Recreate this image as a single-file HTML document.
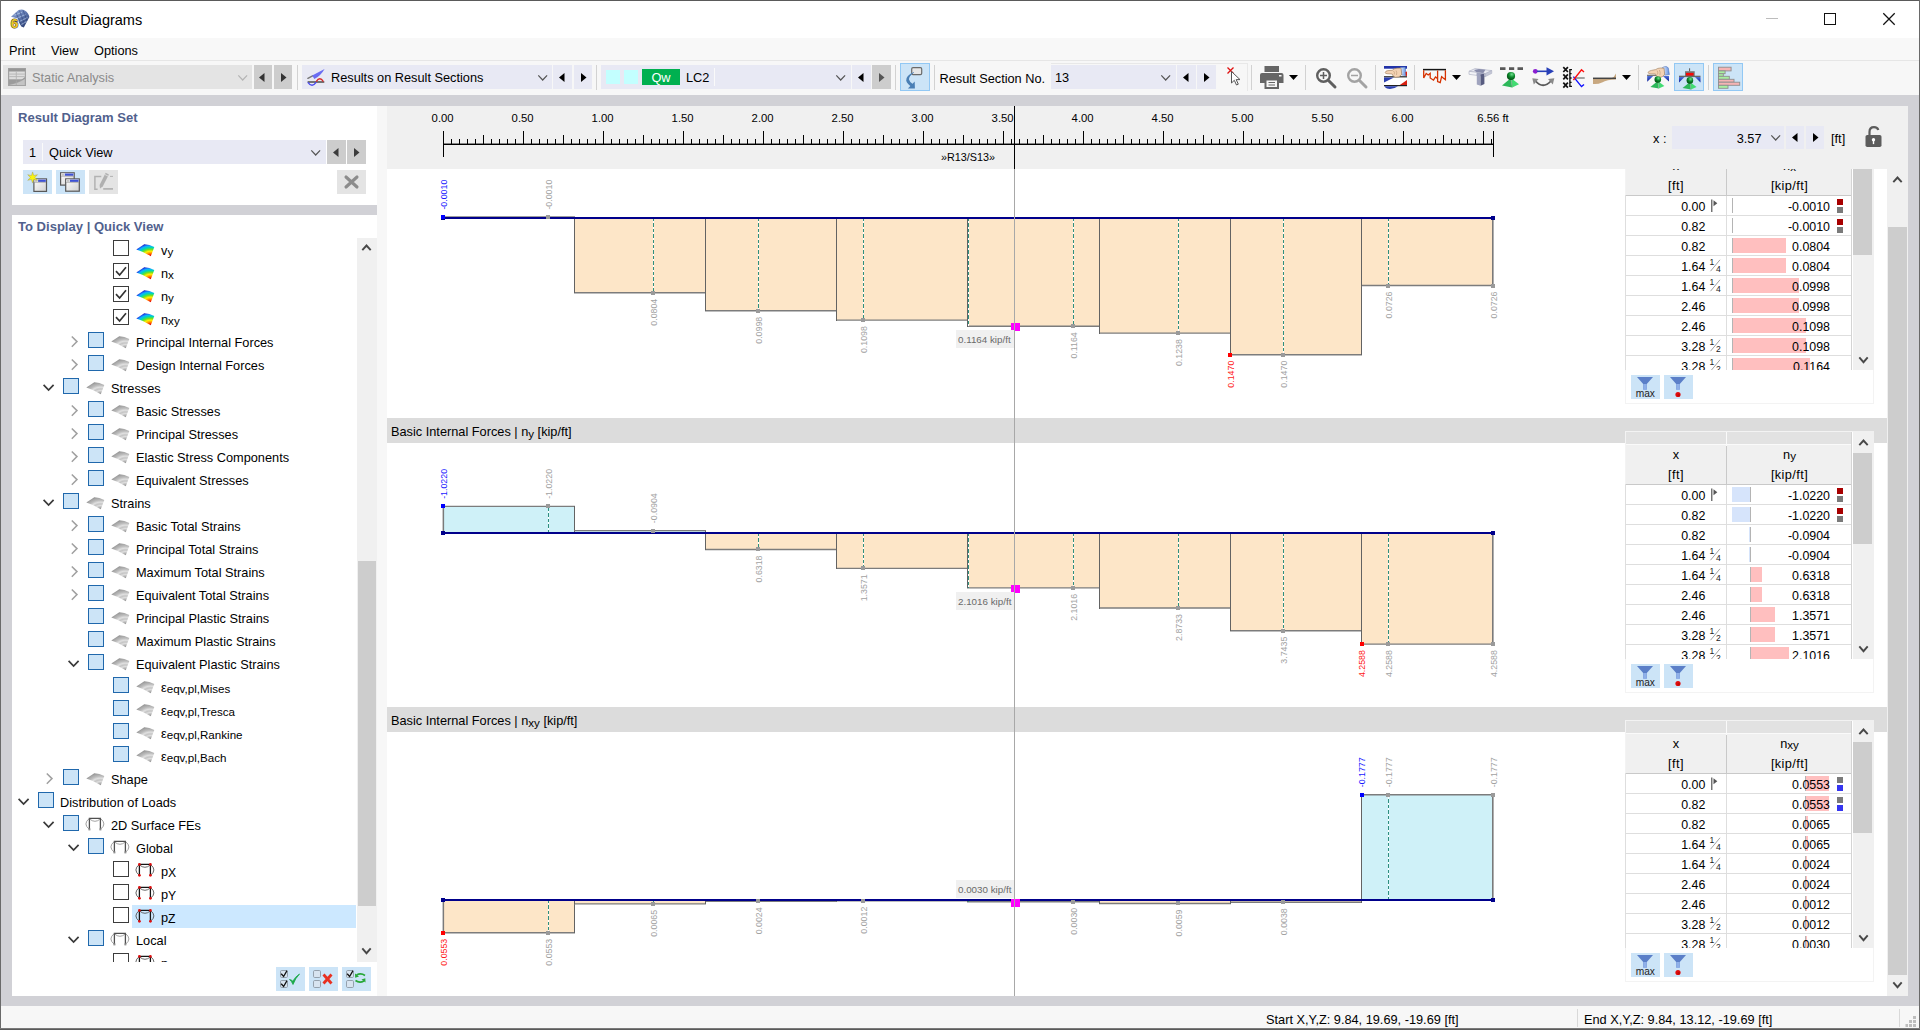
<!DOCTYPE html>
<html><head><meta charset="utf-8"><title>Result Diagrams</title>
<style>

html,body{margin:0;padding:0;background:#d1d1d6;overflow:hidden}
body{font-family:"Liberation Sans",sans-serif;font-size:12.75px;color:#000;width:1920px;height:1030px}
#win{position:relative;width:1920px;height:1030px;overflow:hidden;background:#d1d1d6}
.a{position:absolute;box-sizing:border-box}
.t{position:absolute;white-space:nowrap;line-height:16px;height:16px}
.lav{background:#e8e9f4}
.gbtn{background:#cdcdcd}
.sep{position:absolute;width:1px;background:#d2d2d2;top:65px;height:25px}
.act{background:#cce4f7;border:1px solid #92c8f4}
.hd{font-weight:bold;font-size:13.05px;color:#51618d}
svg{position:absolute;overflow:visible}
.sub{font-size:11.6px;position:relative;top:1.2px}
.cb{position:absolute;width:16px;height:16px;box-sizing:border-box}
.cbw{border:1.6px solid #3c3c3c;background:#fff}
.cbb{border:1.8px solid #2068ac;background:#cce4f7}
.row{position:absolute;left:0;height:23px;width:345px}

</style></head>
<body>
<div id="win">
<div class="a " style="left:0px;top:0px;width:1920px;height:38px;background:#fff"></div>
<div class="a " style="left:0px;top:38px;width:1920px;height:23px;background:#f8f8f8"></div>
<div class="a " style="left:0px;top:60px;width:1920px;height:1px;background:#e6e6e6"></div>
<div class="a " style="left:0px;top:61px;width:1920px;height:34px;background:#f7f7f7"></div>
<div class="a " style="left:377px;top:106px;width:10px;height:890px;background:#f7f7f7"></div>
<div class="a " style="left:0px;top:0px;width:1920px;height:1px;background:#5a5a5a"></div>
<div class="a " style="left:0px;top:0px;width:1px;height:1030px;background:#6a6a6a"></div>
<div class="a " style="left:1919px;top:0px;width:1px;height:1030px;background:#6a6a6a"></div>
<svg style="left:10px;top:9px" width="21" height="21" >
<defs><linearGradient id="tg" x1="0.1" y1="0" x2="0.9" y2="1"><stop offset="0" stop-color="#93aada"/><stop offset="0.45" stop-color="#5f78b0"/><stop offset="1" stop-color="#26376a"/></linearGradient></defs>
<path d="M1 7.8 L8.6 1.1 Q12 -0.2 14.8 1.5 Q18.8 4 19.4 8.1 L13.8 18.4 L11.3 17.4 L9 13.5 L8 9.5 Z" fill="url(#tg)"/>
<g stroke="#c8dcf8" stroke-width="1.1" opacity="0.55"><path d="M4.5 6.2 L12 3.2 M7.5 9 L15.5 5.5 M9.5 12.5 L17.5 8.5 M11 15.8 L16.5 12.5"/></g>
<g stroke="#263a70" stroke-width="0.9" opacity="0.5"><path d="M6 3.8 L11.5 16.5 M9.5 1.6 L14.5 15.5 M13 1.2 L17 11.5"/></g>
<text x="4.6" y="19.3" font-family="Liberation Sans" font-weight="bold" font-size="13.5" fill="#ecc928" stroke="#4e4828" stroke-width="1.1" text-anchor="middle" paint-order="stroke">6</text>
</svg>
<div class="t " style="left:35px;top:11px;font-size:14.5px;line-height:18px;height:18px">Result Diagrams</div>
<div class="a " style="left:1766px;top:18px;width:12px;height:1px;background:#bcbcbc"></div>
<div class="a " style="left:1824px;top:13px;width:12px;height:12px;border:1.3px solid #111"></div>
<svg style="left:1883px;top:13px" width="12" height="12" ><path d="M0.3 0.3 L11.7 11.7 M11.7 0.3 L0.3 11.7" stroke="#111" stroke-width="1.25"/></svg>
<div class="t " style="left:9px;top:43px;">Print</div>
<div class="t " style="left:51px;top:43px;">View</div>
<div class="t " style="left:94px;top:43px;">Options</div>
<div class="a " style="left:3px;top:65px;width:249px;height:24px;background:#e4e4e4"></div>
<svg style="left:8px;top:68px" width="18" height="18" ><rect x="0" y="0" width="18" height="18" fill="#a2a2a2"/><rect x="0.8" y="0.8" width="16.4" height="2.2" fill="#969696"/>
<rect x="1.2" y="3.6" width="15.6" height="7.6" fill="#dedede"/><path d="M1.2 6.1H16.8M1.2 8.6H16.8M8.3 3.6V11.2" stroke="#b4b4b4" stroke-width="0.9"/>
<path d="M1 12 H17 V9 Q11 14.5 1 16.5 Z" fill="#9c9c9c"/><path d="M1.2 17 Q10 15.5 16.8 11 V17 Z" fill="#c4c4c4"/><path d="M8.3 12.5V17" stroke="#aaa" stroke-width="0.8"/></svg>
<div class="t " style="left:32px;top:70px;color:#8a8a8a">Static Analysis</div>
<svg style="left:237.8px;top:75.0px" width="9.4" height="6" ><path d="M0.3 0.3 L4.7 5 L9.1 0.3" fill="none" stroke="#b5b5b5" stroke-width="1.2"/></svg>
<div class="a gbtn" style="left:254px;top:65px;width:18px;height:24px;"></div>
<svg style="left:259px;top:72.5px" width="6" height="9" ><path d="M5.5 0 L5.5 9 L0 4.5 Z" fill="#333"/></svg>
<div class="a gbtn" style="left:274px;top:65px;width:18px;height:24px;"></div>
<svg style="left:280.5px;top:72.5px" width="6" height="9" ><path d="M0 0 L0 9 L5.5 4.5 Z" fill="#333"/></svg>
<div class="sep" style="left:297px"></div><div class="a lav" style="left:302px;top:65px;width:250px;height:24px;"></div>
<svg style="left:307px;top:68px" width="19" height="19" ><path d="M0.9 10.3 L5.6 7.9" stroke="#777" stroke-width="1.5" stroke-linecap="round"/><path d="M5.2 7.4 L17.6 0.9 Q13.5 8 7.4 10.9 Z" fill="#6a6cf2"/>
<path d="M0.6 14 H17.3" stroke="#5e5e5e" stroke-width="1.7"/><path d="M9.2 13.6 Q12.8 8 16.4 13.6" stroke="#d82828" stroke-width="1.4" fill="none"/><path d="M0.9 14.4 Q5 20.3 9.3 14.2" stroke="#4a4af0" stroke-width="1.4" fill="none"/></svg>
<div class="t " style="left:331px;top:70px;">Results on Result Sections</div>
<svg style="left:537.8px;top:75.0px" width="9.4" height="6" ><path d="M0.3 0.3 L4.7 5 L9.1 0.3" fill="none" stroke="#555" stroke-width="1.2"/></svg>
<div class="a lav" style="left:553px;top:65px;width:19px;height:24px;"></div>
<svg style="left:558.5px;top:72.5px" width="6" height="9" ><path d="M5.5 0 L5.5 9 L0 4.5 Z" fill="#000"/></svg>
<div class="a lav" style="left:574px;top:65px;width:18px;height:24px;"></div>
<svg style="left:580.5px;top:72.5px" width="6" height="9" ><path d="M0 0 L0 9 L5.5 4.5 Z" fill="#000"/></svg>
<div class="sep" style="left:596px"></div><div class="a lav" style="left:601px;top:65px;width:250px;height:24px;"></div>
<div class="a " style="left:606px;top:70px;width:14px;height:14px;background:#c3ffff"></div>
<div class="a " style="left:624px;top:70px;width:14px;height:14px;background:#c3ffff"></div>
<div class="a " style="left:642px;top:69px;width:38px;height:16px;background:#00b050"></div>
<div class="t " style="left:642px;top:69.8px;width:38px;text-align:center;color:#fff">Qw</div>
<div class="t " style="left:686px;top:70px;">LC2</div>
<div class="a " style="left:714px;top:68px;width:1px;height:18px;background:#fafafa"></div>
<svg style="left:836.3px;top:75.0px" width="9.4" height="6" ><path d="M0.3 0.3 L4.7 5 L9.1 0.3" fill="none" stroke="#555" stroke-width="1.2"/></svg>
<div class="a lav" style="left:852px;top:65px;width:19px;height:24px;"></div>
<svg style="left:857.5px;top:72.5px" width="6" height="9" ><path d="M5.5 0 L5.5 9 L0 4.5 Z" fill="#000"/></svg>
<div class="a gbtn" style="left:872px;top:65px;width:19px;height:24px;"></div>
<svg style="left:879.0px;top:72.5px" width="6" height="9" ><path d="M0 0 L0 9 L5.5 4.5 Z" fill="#555"/></svg>
<div class="sep" style="left:895px"></div><div class="a act" style="left:900px;top:63px;width:30px;height:28px;"></div>
<svg style="left:905px;top:66px" width="20" height="24" ><rect x="6.7" y="1.6" width="10" height="7" rx="1.3" fill="#e6e6e6" stroke="#6a6a6a" stroke-width="1.2"/>
<path d="M8.8 6 Q0.3 10 1.2 14.8 Q2.3 18.3 6.8 21 L8.3 18.6 Q4.6 16.3 4 13.6 Q3.6 10.6 9 6.6 Z" fill="#4a7fb5"/><path d="M9.7 15.6 L9.9 22.6 L2.9 22.4 Z" fill="#4a7fb5"/></svg>
<div class="sep" style="left:934px"></div><div class="t " style="left:939.5px;top:70.5px;">Result Section No.</div>
<div class="a " style="left:1051px;top:63px;width:196px;height:1px;background:#e8e8e8"></div>
<div class="a " style="left:1247px;top:63px;width:1px;height:28px;background:#e8e8e8"></div>
<div class="a lav" style="left:1051px;top:65px;width:125px;height:24px;"></div>
<div class="t " style="left:1055px;top:70px;">13</div>
<svg style="left:1161.3px;top:75.0px" width="9.4" height="6" ><path d="M0.3 0.3 L4.7 5 L9.1 0.3" fill="none" stroke="#555" stroke-width="1.2"/></svg>
<div class="a lav" style="left:1177px;top:65px;width:19px;height:24px;"></div>
<svg style="left:1182.5px;top:72.5px" width="6" height="9" ><path d="M5.5 0 L5.5 9 L0 4.5 Z" fill="#000"/></svg>
<div class="a lav" style="left:1197px;top:65px;width:19px;height:24px;"></div>
<svg style="left:1204.0px;top:72.5px" width="6" height="9" ><path d="M0 0 L0 9 L5.5 4.5 Z" fill="#000"/></svg>
<svg style="left:1226px;top:66px" width="16" height="20" ><path d="M1.5 1.5 L7.5 7.5 M7.5 1.5 L1.5 7.5" stroke="#e01010" stroke-width="1.3"/>
<path d="M5.5 5.5 L5.5 17 L8.3 14.3 L10.5 19 L12.3 18.2 L10.2 13.6 L14 13.6 Z" fill="#fff" stroke="#555" stroke-width="1"/></svg>
<div class="sep" style="left:1251px"></div><svg style="left:1260px;top:66px" width="24" height="23" ><rect x="4.5" y="0" width="14.5" height="6" fill="#666"/><path d="M2 7 H21.5 Q23.5 7 23.5 9 V17 H0 V9 Q0 7 2 7 Z" fill="#666"/>
<rect x="4.5" y="12.5" width="14.5" height="10.5" fill="#666"/><rect x="6.5" y="14.5" width="10.5" height="6.5" fill="#f7f7f7"/><path d="M8.5 16.5H15M8.5 19H15" stroke="#666" stroke-width="1"/><rect x="19" y="9" width="2.5" height="1.5" fill="#f7f7f7"/></svg>
<svg style="left:1289.0px;top:75.0px" width="9" height="5" ><path d="M0 0 L9 0 L4.5 5 Z" fill="#000"/></svg>
<div class="sep" style="left:1305px"></div><svg style="left:1314px;top:66px" width="24" height="23" ><circle cx="9.5" cy="9.5" r="6.3" fill="none" stroke="#5f5f5f" stroke-width="2.4"/><path d="M14.5 14.5 L21 21" stroke="#5f5f5f" stroke-width="3" stroke-linecap="round"/><path d="M6 9.5H13M9.5 6V13" stroke="#5f5f5f" stroke-width="1.5"/></svg>
<svg style="left:1345px;top:66px" width="24" height="23" ><circle cx="9.5" cy="9.5" r="6.3" fill="none" stroke="#a3a3a3" stroke-width="2.4"/><path d="M14.5 14.5 L21 21" stroke="#a3a3a3" stroke-width="3" stroke-linecap="round"/><path d="M6 9.5H13" stroke="#a3a3a3" stroke-width="1.5"/></svg>
<div class="sep" style="left:1375px"></div><svg style="left:1384px;top:66px" width="23" height="23" ><defs><linearGradient id="cf" x1="0" y1="0" x2="1" y2="0"><stop offset="0" stop-color="#e8f0ff"/><stop offset="1" stop-color="#5f8fe0"/></linearGradient></defs>
<rect x="0" y="0" width="23" height="20" fill="#fff"/><rect x="0" y="0" width="23" height="2.7" fill="#2233a8"/>
<rect x="0" y="10.2" width="23" height="1.2" fill="#222"/><path d="M0 11.4 H10 L0 16.6Z" fill="#2a3fb0"/><path d="M15.8 19 L23 14 V19Z" fill="#d82010"/><rect x="0" y="19" width="23" height="1.2" fill="#222"/>
<path d="M0.4 20.2 H14 Q8 24.2 3 22.6 Q1 21.6 0.4 20.2Z" fill="#2a3fb0"/>
<path d="M16.3 1.4 L21.3 1 L22 9.6 L17.6 9 Z" fill="url(#cf)" stroke="#3a60b0" stroke-width="0.5"/><path d="M21.5 6 L23 5.5 V10 L21.8 9.8Z" fill="#d82010"/>
<path d="M1.2 6.4 Q1.4 4.9 4 4.6 L8.2 4.3 Q9.8 2.4 13 2.2 L17 2.1 L17.8 8.4 Q15.5 11.8 11.3 11.3 Q8.6 10.6 8.2 8 L3 7.7 Q1 7.5 1.2 6.4Z" fill="#f3d2b3" stroke="#9a7858" stroke-width="0.6"/><path d="M9.5 5 Q11 6.5 10.2 8.5 M12 4.5 Q13.3 6.5 12.5 9" fill="none" stroke="#b08a68" stroke-width="0.5"/></svg>
<div class="sep" style="left:1414px"></div><svg style="left:1422px;top:68px" width="25" height="17" ><path d="M1 1.6 H24" stroke="#151515" stroke-width="1.5"/><path d="M1.7 2.2 V10 L4.2 5.4 L6.2 7 L8.2 5.3 V10 L11.5 12.2 L13.5 9 L15.6 10.6 V2.5 M15.6 10.6 V13.6 L18.2 14.6 L19.6 8.6 L21.2 10 L23.4 11.6 V2.2" fill="none" stroke="#d63200" stroke-width="1.3"/></svg>
<svg style="left:1452.0px;top:75.0px" width="9" height="5" ><path d="M0 0 L9 0 L4.5 5 Z" fill="#000"/></svg>
<svg style="left:1468px;top:67px" width="25" height="20" ><path d="M1 4.3 L7 1.6 L23.8 3.6 L17.5 6.6 Z" fill="#e9eaf1" stroke="#a3a6bc" stroke-width="0.6"/><path d="M6 3.1 L11 1.9 L17.4 2.7 L15.2 6.3 L8.6 5.4 Z" fill="#888cab"/>
<path d="M1 4.3 L17.5 6.6 L17.5 9.6 L1 7.3 Z" fill="#f2f3f7" stroke="#a9acc0" stroke-width="0.6"/><path d="M17.5 6.6 L23.8 3.6 L23.8 6.4 L17.5 9.6 Z" fill="#c4c7d6" stroke="#a9acc0" stroke-width="0.5"/>
<path d="M8.6 5.4 L15.2 6.3 L15.2 9.3 L8.6 8.4 Z" fill="#a0a4be"/>
<path d="M8.8 6.8 L12.6 7.6 L12.6 18.8 L8.8 17.6 Z" fill="#a0a4be"/><path d="M12.6 7.6 L16.4 6.6 L16.4 17 L12.6 18.8 Z" fill="#585c80"/></svg>
<svg style="left:1500px;top:66px" width="24" height="23" ><defs><radialGradient id="sg" cx="0.6" cy="0.3" r="0.7"><stop offset="0" stop-color="#6fe08f"/><stop offset="0.5" stop-color="#0c8a2c"/><stop offset="1" stop-color="#024d12"/></radialGradient></defs>
<path d="M0 2.6 H5.5 M9 2.6 H14.2 M17.5 2.6 H23" stroke="#585858" stroke-width="2.6"/><path d="M11 12 L1.99 19.51 L12.19 21.50 Z" fill="#2db85a"/><path d="M11 12 L12.19 21.50 L18.99 18.27 Z" fill="#42dc72"/><path d="M11 12 L12.19 21.50" stroke="#8a9a90" stroke-width="0.5"/><circle cx="11" cy="10" r="4.1" fill="url(#sg)"/></svg>
<svg style="left:1532px;top:66px" width="23" height="23" ><circle cx="3.3" cy="5.3" r="2.4" fill="#8a1fd0"/><path d="M5 5.3 H16" stroke="#2840b8" stroke-width="1.6"/><path d="M14.5 1.2 L22 5.3 L14.5 9.4 Z" fill="#2840b8"/>
<path d="M3.5 15 Q11 23.5 19 15" fill="none" stroke="#5a5a5a" stroke-width="1.8"/><path d="M0.3 12.2 L6.5 13 L1.8 18.5 Z" fill="#8a8a8a"/><path d="M22.3 12.2 L16 13 L20.8 18.5 Z" fill="#8a8a8a"/></svg>
<svg style="left:1563px;top:66px" width="23" height="23" ><path d="M6.9 3 V21" stroke="#111" stroke-width="1.4"/><path d="M6.9 3.6 H9 M6.9 7.6 H8.6 M6.9 12 H8.6 M6.9 16.4 H8.6 M6.9 20.4 H9" stroke="#111" stroke-width="1.3"/>
<path d="M0.3 1.2 L4.9 6 M4.9 1.2 L0.3 6 M0.3 8.4 L4.9 13.3 M4.9 8.4 L0.3 13.3 M0.3 16.6 L4.9 21.6 M4.9 16.6 L0.3 21.6" stroke="#111" stroke-width="1.7"/>
<path d="M12.5 12 H21.7" stroke="#6a6a6a" stroke-width="1.2"/><path d="M10.4 10.6 L18.5 20.6 L21 18.5" fill="none" stroke="#1010ff" stroke-width="1.4"/><path d="M10.4 14 L18.5 3.7 L21 6" fill="none" stroke="#ff1010" stroke-width="1.4"/></svg>
<svg style="left:1593px;top:73px" width="24" height="12" ><path d="M0 5.5 L18 5.5 Q21.5 4 23 0.5 L23 5.5 L23 6 L0 6Z" fill="#c8a880"/><path d="M0 5.5 H23 V6.5 Q14 6.5 9 9.5 Q5 11.5 0 11 Z" fill="#c8a880"/><path d="M0 5.3 H23" stroke="#444" stroke-width="1.5"/></svg>
<svg style="left:1622.0px;top:75.0px" width="9" height="5" ><path d="M0 0 L9 0 L4.5 5 Z" fill="#000"/></svg>
<div class="sep" style="left:1638px"></div><svg style="left:1647px;top:65px" width="24" height="25" ><defs><linearGradient id="bt" x1="0" y1="0" x2="0" y2="1"><stop offset="0" stop-color="#4f6fd8"/><stop offset="1" stop-color="#0a1d98"/></linearGradient></defs>
<path d="M0 10.4 H12" stroke="#777" stroke-width="1.3"/><path d="M0.2 11 H6.2 L0.2 16.8Z" fill="url(#bt)"/><path d="M15.8 11 H22 V16.4Z" fill="url(#bt)"/>
<path d="M15.3 2.6 Q19.5 0.3 21.3 3 L22.4 9.6 L17.6 10.2 Z" fill="url(#cf)" stroke="#3a60b0" stroke-width="0.5"/>
<path d="M1.2 7.3 Q1.8 5.7 4.5 5.4 L8.6 4.6 Q10.6 3 13.5 3 L17 3.2 L17.7 9.3 Q15.6 12.9 11.6 12.4 Q9 11.7 8.6 9 L3 8.8 Q0.8 8.4 1.2 7.3Z" fill="#f3d2b3" stroke="#9a7858" stroke-width="0.6"/><path d="M10 5.5 Q11.3 7.3 10.6 9.6 M12.4 5 Q13.6 7.2 12.9 10.2" fill="none" stroke="#b08a68" stroke-width="0.5"/><path d="M10.8 16 L3.38 22.00 L11.78 23.60 Z" fill="#2db85a"/><path d="M10.8 16 L11.78 23.60 L17.38 21.02 Z" fill="#42dc72"/><path d="M10.8 16 L11.78 23.60" stroke="#8a9a90" stroke-width="0.5"/><circle cx="10.8" cy="14.5" r="3.3" fill="url(#sg)"/></svg>
<div class="a act" style="left:1674px;top:63px;width:30px;height:28px;"></div>
<svg style="left:1678px;top:67px" width="24" height="23" ><path d="M11.6 1.3 V4.5" stroke="#555" stroke-width="1"/><rect x="7" y="4.2" width="9.7" height="4.8" fill="#757575"/><rect x="8" y="5.9" width="7.6" height="2.9" fill="#f80808"/><path d="M1 9.4 H22.5" stroke="#666" stroke-width="1.4"/>
<path d="M1 10.1 H6.5 L1 15.4 Z" fill="url(#bt)"/><path d="M22.5 10.1 H17 L22.5 15.4 Z" fill="url(#bt)"/><path d="M12 15 L4.58 21.00 L12.98 22.60 Z" fill="#2db85a"/><path d="M12 15 L12.98 22.60 L18.58 20.02 Z" fill="#42dc72"/><path d="M12 15 L12.98 22.60" stroke="#8a9a90" stroke-width="0.5"/><circle cx="11.9" cy="13.4" r="3.3" fill="url(#sg)"/></svg>
<div class="sep" style="left:1708px"></div><div class="a act" style="left:1713px;top:63px;width:30px;height:28px;"></div>
<svg style="left:1718px;top:67px" width="23" height="23" ><rect x="0.5" y="0.2" width="12.6" height="3.7" fill="#f6b4b4" stroke="#8e8e8e" stroke-width="0.9"/><rect x="0.5" y="3.9" width="6.6" height="2.8" fill="#a8f0a0" stroke="#8e8e8e" stroke-width="0.9"/><rect x="0.5" y="6.7" width="4.8" height="2.6" fill="#a8f0a0" stroke="#8e8e8e" stroke-width="0.9"/><rect x="0.5" y="9.3" width="10.8" height="3.0" fill="#a8f0a0" stroke="#8e8e8e" stroke-width="0.9"/><rect x="0.5" y="12.3" width="15.5" height="2.9" fill="#f6b4b4" stroke="#8e8e8e" stroke-width="0.9"/><rect x="0.5" y="15.2" width="21.2" height="3.1" fill="#f6b4b4" stroke="#8e8e8e" stroke-width="0.9"/><rect x="0.5" y="18.3" width="9.5" height="3.0" fill="#a8f0a0" stroke="#8e8e8e" stroke-width="0.9"/></svg>
<div class="a " style="left:1px;top:1006px;width:1918px;height:23px;background:#f7f7f7"></div>
<div class="a " style="left:0px;top:1029px;width:1920px;height:1px;background:#5a5a5a"></div>
<div class="a " style="left:0px;top:1028px;width:1920px;height:1px;background:#7a7a7a"></div>
<div class="a " style="left:1577px;top:1009px;width:1px;height:18px;background:#d9d9d9"></div>
<div class="a " style="left:1899px;top:1009px;width:1px;height:18px;background:#d9d9d9"></div>
<div class="t " style="left:1266px;top:1012px;">Start X,Y,Z: 9.84, 19.69, -19.69 [ft]</div>
<div class="t " style="left:1584px;top:1012px;">End X,Y,Z: 9.84, 13.12, -19.69 [ft]</div>
<svg style="left:1904px;top:1015px" width="13" height="13" ><g fill="#bebebe"><rect x="9" y="1" width="3" height="3"/><rect x="5" y="5" width="3" height="3"/><rect x="9" y="5" width="3" height="3"/><rect x="1.5" y="9" width="2.5" height="3"/><rect x="5" y="9" width="3" height="3"/><rect x="9" y="9" width="3" height="3"/></g></svg>
<div class="a " style="left:12px;top:106px;width:365px;height:99px;background:#fff"></div>
<div class="t hd" style="left:18px;top:109.5px;">Result Diagram Set</div>
<div class="a lav" style="left:23px;top:140px;width:303px;height:24px;"></div>
<div class="t " style="left:29px;top:145px;">1</div>
<div class="a " style="left:42px;top:143px;width:1px;height:18px;background:#fafafa"></div>
<div class="t " style="left:49px;top:145px;">Quick View</div>
<svg style="left:311.3px;top:150.0px" width="9.4" height="6" ><path d="M0.3 0.3 L4.7 5 L9.1 0.3" fill="none" stroke="#555" stroke-width="1.2"/></svg>
<div class="a gbtn" style="left:327px;top:140px;width:19px;height:24px;"></div>
<svg style="left:332.5px;top:147.5px" width="6" height="9" ><path d="M5.5 0 L5.5 9 L0 4.5 Z" fill="#3c3c3c"/></svg>
<div class="a gbtn" style="left:347px;top:140px;width:19px;height:24px;"></div>
<svg style="left:354.0px;top:147.5px" width="6" height="9" ><path d="M0 0 L0 9 L5.5 4.5 Z" fill="#3c3c3c"/></svg>
<div class="a " style="left:23px;top:170px;width:29px;height:24px;background:#cce4f7"></div>
<svg style="left:26px;top:171px" width="24" height="22" ><defs><linearGradient id="wg" x1="0" y1="0" x2="1" y2="1"><stop offset="0" stop-color="#ffffff"/><stop offset="1" stop-color="#d0d0d0"/></linearGradient></defs><rect x="7.9" y="7.9" width="12.6" height="12.5" fill="url(#wg)" stroke="#585858" stroke-width="1.2"/><rect x="8.5" y="8.5" width="11.4" height="2.5" fill="#f4f4f4"/><rect x="12.100000000000001" y="8.6" width="7.699999999999999" height="2.3" fill="#3d52d6"/><rect x="8.8" y="8.8" width="2.6" height="1.9" fill="#c4c4c4"/><path d="M8.5 11.3 H19.9" stroke="#8a8a8a" stroke-width="0.6"/><path d="M6.60 0.90 L7.75 4.51 L11.45 3.70 L8.90 6.50 L11.45 9.30 L7.75 8.49 L6.60 12.10 L5.45 8.49 L1.75 9.30 L4.30 6.50 L1.75 3.70 L5.45 4.51 Z" fill="#f8f410" stroke="#a8a060" stroke-width="0.5"/></svg>
<div class="a " style="left:56px;top:170px;width:29px;height:24px;background:#cce4f7"></div>
<svg style="left:59px;top:171px" width="24" height="22" ><rect x="1.6" y="1.8" width="13.6" height="12.3" fill="url(#wg)" stroke="#585858" stroke-width="1.2"/><rect x="2.2" y="2.4" width="12.4" height="2.5" fill="#f4f4f4"/><rect x="5.800000000000001" y="2.5" width="8.7" height="2.3" fill="#3d52d6"/><rect x="2.5" y="2.7" width="2.6" height="1.9" fill="#c4c4c4"/><path d="M2.2 5.2 H14.6" stroke="#8a8a8a" stroke-width="0.6"/><rect x="6.7" y="7.9" width="13.6" height="12.3" fill="url(#wg)" stroke="#585858" stroke-width="1.2"/><rect x="7.3" y="8.5" width="12.4" height="2.5" fill="#f4f4f4"/><rect x="10.9" y="8.6" width="8.7" height="2.3" fill="#3d52d6"/><rect x="7.6000000000000005" y="8.8" width="2.6" height="1.9" fill="#c4c4c4"/><path d="M7.3 11.3 H19.7" stroke="#8a8a8a" stroke-width="0.6"/></svg>
<div class="a " style="left:89px;top:170px;width:29px;height:24px;background:#e4e4e4"></div>
<svg style="left:92px;top:171px" width="24" height="22" ><path d="M9.3 5.6 H2.9 V18.2 H5.6" fill="none" stroke="#b2b2b2" stroke-width="1.5"/><path d="M11.2 17.9 H21" stroke="#b2b2b2" stroke-width="1.7"/><path d="M18 5.4 H21" stroke="#b2b2b2" stroke-width="1"/>
<path d="M13.7 1.8 L16.9 3.4 L10.7 15.4 L8 17.6 L7.6 13.9 Z" fill="#b0b0b0"/><path d="M12.9 3.5 L16 5.1" stroke="#e4e4e4" stroke-width="0.8"/></svg>
<div class="a " style="left:337px;top:170px;width:29px;height:24px;background:#e4e4e4"></div>
<svg style="left:344px;top:175px" width="15" height="14" ><path d="M2 2 L13 12 M13 2 L2 12" stroke="#8c8c8c" stroke-width="3.1" stroke-linecap="round"/></svg>
<div class="a " style="left:12px;top:215px;width:365px;height:781px;background:#fff"></div>
<div class="t hd" style="left:18px;top:218.5px;">To Display | Quick View</div>
<div class="a" style="left:12px;top:238px;width:345px;height:724px;overflow:hidden"><svg width="0" height="0" style="left:0;top:0"><defs><radialGradient id="rb" gradientUnits="userSpaceOnUse" cx="14.5" cy="12.5" r="13.2" gradientTransform="translate(14.5 12.5) scale(1.35 1) translate(-14.5 -12.5)">
<stop offset="0" stop-color="#b00000"/><stop offset="0.12" stop-color="#ff2000"/><stop offset="0.26" stop-color="#ff9800"/><stop offset="0.4" stop-color="#fff000"/><stop offset="0.54" stop-color="#70e020"/><stop offset="0.68" stop-color="#00d8b0"/><stop offset="0.8" stop-color="#10b0ff"/><stop offset="0.9" stop-color="#1858f0"/><stop offset="1" stop-color="#1000a0"/></radialGradient>
<radialGradient id="gb" gradientUnits="userSpaceOnUse" cx="14.5" cy="12.5" r="13.2" gradientTransform="translate(14.5 12.5) scale(1.35 1) translate(-14.5 -12.5)">
<stop offset="0" stop-color="#8a8a8a"/><stop offset="0.18" stop-color="#b8b8b8"/><stop offset="0.3" stop-color="#dedede"/><stop offset="0.42" stop-color="#c4c4c4"/><stop offset="0.55" stop-color="#e0e0e0"/><stop offset="0.7" stop-color="#bdbdbd"/><stop offset="0.85" stop-color="#a8a8a8"/><stop offset="1" stop-color="#8c8c8c"/></radialGradient></defs></svg><div class="cb cbw" style="left:101px;top:2px"></div><svg style="left:124px;top:6px" width="19" height="13" ><path d="M0.3 5.6 L8.3 0.3 Q13.5 0.6 18.3 3 L14.8 12.3 Q8 8 0.3 5.6 Z" fill="url(#rb)"/></svg>
<div class="t " style="left:149px;top:5px;">v<span class="sub">y</span></div>
<div class="cb cbw" style="left:101px;top:25px"></div><svg style="left:101px;top:25px" width="16" height="16" ><path d="M3 8.2 L6.6 12 L13 4.2" fill="none" stroke="#333" stroke-width="1.7"/></svg>
<svg style="left:124px;top:29px" width="19" height="13" ><path d="M0.3 5.6 L8.3 0.3 Q13.5 0.6 18.3 3 L14.8 12.3 Q8 8 0.3 5.6 Z" fill="url(#rb)"/></svg>
<div class="t " style="left:149px;top:28px;">n<span class="sub">x</span></div>
<div class="cb cbw" style="left:101px;top:48px"></div><svg style="left:101px;top:48px" width="16" height="16" ><path d="M3 8.2 L6.6 12 L13 4.2" fill="none" stroke="#333" stroke-width="1.7"/></svg>
<svg style="left:124px;top:52px" width="19" height="13" ><path d="M0.3 5.6 L8.3 0.3 Q13.5 0.6 18.3 3 L14.8 12.3 Q8 8 0.3 5.6 Z" fill="url(#rb)"/></svg>
<div class="t " style="left:149px;top:51px;">n<span class="sub">y</span></div>
<div class="cb cbw" style="left:101px;top:71px"></div><svg style="left:101px;top:71px" width="16" height="16" ><path d="M3 8.2 L6.6 12 L13 4.2" fill="none" stroke="#333" stroke-width="1.7"/></svg>
<svg style="left:124px;top:75px" width="19" height="13" ><path d="M0.3 5.6 L8.3 0.3 Q13.5 0.6 18.3 3 L14.8 12.3 Q8 8 0.3 5.6 Z" fill="url(#rb)"/></svg>
<div class="t " style="left:149px;top:74px;">n<span class="sub">xy</span></div>
<svg style="left:59px;top:98px" width="8" height="12" ><path d="M0.8 0.5 L6 5.6 L0.8 10.7" fill="none" stroke="#a0a0a0" stroke-width="1.5"/></svg>
<div class="cb cbb" style="left:76px;top:94px"></div><svg style="left:99px;top:98px" width="19" height="13" ><path d="M0.3 5.6 L8.3 0.3 Q13.5 0.6 18.3 3 L14.8 12.3 Q8 8 0.3 5.6 Z" fill="url(#gb)"/></svg>
<div class="t " style="left:124px;top:97px;">Principal Internal Forces</div>
<svg style="left:59px;top:121px" width="8" height="12" ><path d="M0.8 0.5 L6 5.6 L0.8 10.7" fill="none" stroke="#a0a0a0" stroke-width="1.5"/></svg>
<div class="cb cbb" style="left:76px;top:117px"></div><svg style="left:99px;top:121px" width="19" height="13" ><path d="M0.3 5.6 L8.3 0.3 Q13.5 0.6 18.3 3 L14.8 12.3 Q8 8 0.3 5.6 Z" fill="url(#gb)"/></svg>
<div class="t " style="left:124px;top:120px;">Design Internal Forces</div>
<svg style="left:31px;top:146px" width="12" height="8" ><path d="M0.6 0.8 L5.6 6 L10.6 0.8" fill="none" stroke="#3a3a3a" stroke-width="1.7"/></svg>
<div class="cb cbb" style="left:51px;top:140px"></div><svg style="left:74px;top:144px" width="19" height="13" ><path d="M0.3 5.6 L8.3 0.3 Q13.5 0.6 18.3 3 L14.8 12.3 Q8 8 0.3 5.6 Z" fill="url(#gb)"/></svg>
<div class="t " style="left:99px;top:143px;">Stresses</div>
<svg style="left:59px;top:167px" width="8" height="12" ><path d="M0.8 0.5 L6 5.6 L0.8 10.7" fill="none" stroke="#a0a0a0" stroke-width="1.5"/></svg>
<div class="cb cbb" style="left:76px;top:163px"></div><svg style="left:99px;top:167px" width="19" height="13" ><path d="M0.3 5.6 L8.3 0.3 Q13.5 0.6 18.3 3 L14.8 12.3 Q8 8 0.3 5.6 Z" fill="url(#gb)"/></svg>
<div class="t " style="left:124px;top:166px;">Basic Stresses</div>
<svg style="left:59px;top:190px" width="8" height="12" ><path d="M0.8 0.5 L6 5.6 L0.8 10.7" fill="none" stroke="#a0a0a0" stroke-width="1.5"/></svg>
<div class="cb cbb" style="left:76px;top:186px"></div><svg style="left:99px;top:190px" width="19" height="13" ><path d="M0.3 5.6 L8.3 0.3 Q13.5 0.6 18.3 3 L14.8 12.3 Q8 8 0.3 5.6 Z" fill="url(#gb)"/></svg>
<div class="t " style="left:124px;top:189px;">Principal Stresses</div>
<svg style="left:59px;top:213px" width="8" height="12" ><path d="M0.8 0.5 L6 5.6 L0.8 10.7" fill="none" stroke="#a0a0a0" stroke-width="1.5"/></svg>
<div class="cb cbb" style="left:76px;top:209px"></div><svg style="left:99px;top:213px" width="19" height="13" ><path d="M0.3 5.6 L8.3 0.3 Q13.5 0.6 18.3 3 L14.8 12.3 Q8 8 0.3 5.6 Z" fill="url(#gb)"/></svg>
<div class="t " style="left:124px;top:212px;">Elastic Stress Components</div>
<svg style="left:59px;top:236px" width="8" height="12" ><path d="M0.8 0.5 L6 5.6 L0.8 10.7" fill="none" stroke="#a0a0a0" stroke-width="1.5"/></svg>
<div class="cb cbb" style="left:76px;top:232px"></div><svg style="left:99px;top:236px" width="19" height="13" ><path d="M0.3 5.6 L8.3 0.3 Q13.5 0.6 18.3 3 L14.8 12.3 Q8 8 0.3 5.6 Z" fill="url(#gb)"/></svg>
<div class="t " style="left:124px;top:235px;">Equivalent Stresses</div>
<svg style="left:31px;top:261px" width="12" height="8" ><path d="M0.6 0.8 L5.6 6 L10.6 0.8" fill="none" stroke="#3a3a3a" stroke-width="1.7"/></svg>
<div class="cb cbb" style="left:51px;top:255px"></div><svg style="left:74px;top:259px" width="19" height="13" ><path d="M0.3 5.6 L8.3 0.3 Q13.5 0.6 18.3 3 L14.8 12.3 Q8 8 0.3 5.6 Z" fill="url(#gb)"/></svg>
<div class="t " style="left:99px;top:258px;">Strains</div>
<svg style="left:59px;top:282px" width="8" height="12" ><path d="M0.8 0.5 L6 5.6 L0.8 10.7" fill="none" stroke="#a0a0a0" stroke-width="1.5"/></svg>
<div class="cb cbb" style="left:76px;top:278px"></div><svg style="left:99px;top:282px" width="19" height="13" ><path d="M0.3 5.6 L8.3 0.3 Q13.5 0.6 18.3 3 L14.8 12.3 Q8 8 0.3 5.6 Z" fill="url(#gb)"/></svg>
<div class="t " style="left:124px;top:281px;">Basic Total Strains</div>
<svg style="left:59px;top:305px" width="8" height="12" ><path d="M0.8 0.5 L6 5.6 L0.8 10.7" fill="none" stroke="#a0a0a0" stroke-width="1.5"/></svg>
<div class="cb cbb" style="left:76px;top:301px"></div><svg style="left:99px;top:305px" width="19" height="13" ><path d="M0.3 5.6 L8.3 0.3 Q13.5 0.6 18.3 3 L14.8 12.3 Q8 8 0.3 5.6 Z" fill="url(#gb)"/></svg>
<div class="t " style="left:124px;top:304px;">Principal Total Strains</div>
<svg style="left:59px;top:328px" width="8" height="12" ><path d="M0.8 0.5 L6 5.6 L0.8 10.7" fill="none" stroke="#a0a0a0" stroke-width="1.5"/></svg>
<div class="cb cbb" style="left:76px;top:324px"></div><svg style="left:99px;top:328px" width="19" height="13" ><path d="M0.3 5.6 L8.3 0.3 Q13.5 0.6 18.3 3 L14.8 12.3 Q8 8 0.3 5.6 Z" fill="url(#gb)"/></svg>
<div class="t " style="left:124px;top:327px;">Maximum Total Strains</div>
<svg style="left:59px;top:351px" width="8" height="12" ><path d="M0.8 0.5 L6 5.6 L0.8 10.7" fill="none" stroke="#a0a0a0" stroke-width="1.5"/></svg>
<div class="cb cbb" style="left:76px;top:347px"></div><svg style="left:99px;top:351px" width="19" height="13" ><path d="M0.3 5.6 L8.3 0.3 Q13.5 0.6 18.3 3 L14.8 12.3 Q8 8 0.3 5.6 Z" fill="url(#gb)"/></svg>
<div class="t " style="left:124px;top:350px;">Equivalent Total Strains</div>
<div class="cb cbb" style="left:76px;top:370px"></div><svg style="left:99px;top:374px" width="19" height="13" ><path d="M0.3 5.6 L8.3 0.3 Q13.5 0.6 18.3 3 L14.8 12.3 Q8 8 0.3 5.6 Z" fill="url(#gb)"/></svg>
<div class="t " style="left:124px;top:373px;">Principal Plastic Strains</div>
<div class="cb cbb" style="left:76px;top:393px"></div><svg style="left:99px;top:397px" width="19" height="13" ><path d="M0.3 5.6 L8.3 0.3 Q13.5 0.6 18.3 3 L14.8 12.3 Q8 8 0.3 5.6 Z" fill="url(#gb)"/></svg>
<div class="t " style="left:124px;top:396px;">Maximum Plastic Strains</div>
<svg style="left:56px;top:422px" width="12" height="8" ><path d="M0.6 0.8 L5.6 6 L10.6 0.8" fill="none" stroke="#3a3a3a" stroke-width="1.7"/></svg>
<div class="cb cbb" style="left:76px;top:416px"></div><svg style="left:99px;top:420px" width="19" height="13" ><path d="M0.3 5.6 L8.3 0.3 Q13.5 0.6 18.3 3 L14.8 12.3 Q8 8 0.3 5.6 Z" fill="url(#gb)"/></svg>
<div class="t " style="left:124px;top:419px;">Equivalent Plastic Strains</div>
<div class="cb cbb" style="left:101px;top:439px"></div><svg style="left:124px;top:443px" width="19" height="13" ><path d="M0.3 5.6 L8.3 0.3 Q13.5 0.6 18.3 3 L14.8 12.3 Q8 8 0.3 5.6 Z" fill="url(#gb)"/></svg>
<div class="t " style="left:149px;top:442px;">ε<span class="sub">eqv,pl,Mises</span></div>
<div class="cb cbb" style="left:101px;top:462px"></div><svg style="left:124px;top:466px" width="19" height="13" ><path d="M0.3 5.6 L8.3 0.3 Q13.5 0.6 18.3 3 L14.8 12.3 Q8 8 0.3 5.6 Z" fill="url(#gb)"/></svg>
<div class="t " style="left:149px;top:465px;">ε<span class="sub">eqv,pl,Tresca</span></div>
<div class="cb cbb" style="left:101px;top:485px"></div><svg style="left:124px;top:489px" width="19" height="13" ><path d="M0.3 5.6 L8.3 0.3 Q13.5 0.6 18.3 3 L14.8 12.3 Q8 8 0.3 5.6 Z" fill="url(#gb)"/></svg>
<div class="t " style="left:149px;top:488px;">ε<span class="sub">eqv,pl,Rankine</span></div>
<div class="cb cbb" style="left:101px;top:508px"></div><svg style="left:124px;top:512px" width="19" height="13" ><path d="M0.3 5.6 L8.3 0.3 Q13.5 0.6 18.3 3 L14.8 12.3 Q8 8 0.3 5.6 Z" fill="url(#gb)"/></svg>
<div class="t " style="left:149px;top:511px;">ε<span class="sub">eqv,pl,Bach</span></div>
<svg style="left:34px;top:535px" width="8" height="12" ><path d="M0.8 0.5 L6 5.6 L0.8 10.7" fill="none" stroke="#a0a0a0" stroke-width="1.5"/></svg>
<div class="cb cbb" style="left:51px;top:531px"></div><svg style="left:74px;top:535px" width="19" height="13" ><path d="M0.3 5.6 L8.3 0.3 Q13.5 0.6 18.3 3 L14.8 12.3 Q8 8 0.3 5.6 Z" fill="url(#gb)"/></svg>
<div class="t " style="left:99px;top:534px;">Shape</div>
<svg style="left:6px;top:560px" width="12" height="8" ><path d="M0.6 0.8 L5.6 6 L10.6 0.8" fill="none" stroke="#3a3a3a" stroke-width="1.7"/></svg>
<div class="cb cbb" style="left:26px;top:554px"></div><div class="t " style="left:48px;top:557px;">Distribution of Loads</div>
<svg style="left:31px;top:583px" width="12" height="8" ><path d="M0.6 0.8 L5.6 6 L10.6 0.8" fill="none" stroke="#3a3a3a" stroke-width="1.7"/></svg>
<div class="cb cbb" style="left:51px;top:577px"></div><svg style="left:74px;top:578px" width="19" height="16" ><path d="M3.4 2.4 Q-3.6 8 3.4 13.3" fill="none" stroke="#a0a0a0" stroke-width="1.0"/><path d="M14.4 2.4 Q21.4 8 14.4 13.3" fill="none" stroke="#a0a0a0" stroke-width="1.0"/>
<path d="M3.4 13.3 V2.4 H14.4 V13.3" fill="none" stroke="#505050" stroke-width="1.3"/><path d="M3.6 3 Q9 7.6 14.2 3" fill="none" stroke="#8a8a8a" stroke-width="0.8"/><rect x="2.4" y="12.4" width="2" height="2" fill="#909090"/><rect x="13.4" y="12.4" width="2" height="2" fill="#909090"/></svg>
<div class="t " style="left:99px;top:580px;">2D Surface FEs</div>
<svg style="left:56px;top:606px" width="12" height="8" ><path d="M0.6 0.8 L5.6 6 L10.6 0.8" fill="none" stroke="#3a3a3a" stroke-width="1.7"/></svg>
<div class="cb cbb" style="left:76px;top:600px"></div><svg style="left:99px;top:601px" width="19" height="16" ><path d="M3.4 2.4 Q-3.6 8 3.4 13.3" fill="none" stroke="#a0a0a0" stroke-width="1.0"/><path d="M14.4 2.4 Q21.4 8 14.4 13.3" fill="none" stroke="#a0a0a0" stroke-width="1.0"/>
<path d="M3.4 13.3 V2.4 H14.4 V13.3" fill="none" stroke="#505050" stroke-width="1.3"/><path d="M3.6 3 Q9 7.6 14.2 3" fill="none" stroke="#8a8a8a" stroke-width="0.8"/><rect x="2.4" y="12.4" width="2" height="2" fill="#909090"/><rect x="13.4" y="12.4" width="2" height="2" fill="#909090"/></svg>
<div class="t " style="left:124px;top:603px;">Global</div>
<div class="cb cbw" style="left:101px;top:623px"></div><svg style="left:124px;top:624px" width="19" height="16" ><path d="M3.4 2.4 Q-3.6 8 3.4 13.3" fill="none" stroke="#3c3c3c" stroke-width="0.8"/><path d="M14.4 2.4 Q21.4 8 14.4 13.3" fill="none" stroke="#3c3c3c" stroke-width="0.8"/>
<path d="M3.4 13.3 V2.4 H14.4 V13.3" fill="none" stroke="#151515" stroke-width="1.3"/><path d="M3.6 3 Q9 7.6 14.2 3" fill="none" stroke="#444" stroke-width="0.8"/><circle cx="3.4" cy="2.4" r="1.35" fill="#e01010"/><circle cx="14.4" cy="2.4" r="1.35" fill="#e01010"/><circle cx="3.4" cy="13.3" r="1.35" fill="#e01010"/><circle cx="14.4" cy="13.3" r="1.35" fill="#e01010"/></svg>
<div class="t " style="left:149px;top:626px;">p<span class="sub" style="font-size:12.2px;top:0.6px">X</span></div>
<div class="cb cbw" style="left:101px;top:646px"></div><svg style="left:124px;top:647px" width="19" height="16" ><path d="M3.4 2.4 Q-3.6 8 3.4 13.3" fill="none" stroke="#3c3c3c" stroke-width="0.8"/><path d="M14.4 2.4 Q21.4 8 14.4 13.3" fill="none" stroke="#3c3c3c" stroke-width="0.8"/>
<path d="M3.4 13.3 V2.4 H14.4 V13.3" fill="none" stroke="#151515" stroke-width="1.3"/><path d="M3.6 3 Q9 7.6 14.2 3" fill="none" stroke="#444" stroke-width="0.8"/><circle cx="3.4" cy="2.4" r="1.35" fill="#e01010"/><circle cx="14.4" cy="2.4" r="1.35" fill="#e01010"/><circle cx="3.4" cy="13.3" r="1.35" fill="#e01010"/><circle cx="14.4" cy="13.3" r="1.35" fill="#e01010"/></svg>
<div class="t " style="left:149px;top:649px;">p<span class="sub" style="font-size:12.2px;top:0.6px">Y</span></div>
<div class="a " style="left:120px;top:667px;width:224px;height:23px;background:#cce8ff"></div>
<div class="cb cbw" style="left:101px;top:669px"></div><svg style="left:124px;top:670px" width="19" height="16" ><path d="M3.4 2.4 Q-3.6 8 3.4 13.3" fill="none" stroke="#3c3c3c" stroke-width="0.8"/><path d="M14.4 2.4 Q21.4 8 14.4 13.3" fill="none" stroke="#3c3c3c" stroke-width="0.8"/>
<path d="M3.4 13.3 V2.4 H14.4 V13.3" fill="none" stroke="#151515" stroke-width="1.3"/><path d="M3.6 3 Q9 7.6 14.2 3" fill="none" stroke="#444" stroke-width="0.8"/><circle cx="3.4" cy="2.4" r="1.35" fill="#e01010"/><circle cx="14.4" cy="2.4" r="1.35" fill="#e01010"/><circle cx="3.4" cy="13.3" r="1.35" fill="#e01010"/><circle cx="14.4" cy="13.3" r="1.35" fill="#e01010"/></svg>
<div class="t " style="left:149px;top:672px;">p<span class="sub" style="font-size:12.2px;top:0.6px">Z</span></div>
<svg style="left:56px;top:698px" width="12" height="8" ><path d="M0.6 0.8 L5.6 6 L10.6 0.8" fill="none" stroke="#3a3a3a" stroke-width="1.7"/></svg>
<div class="cb cbb" style="left:76px;top:692px"></div><svg style="left:99px;top:693px" width="19" height="16" ><path d="M3.4 2.4 Q-3.6 8 3.4 13.3" fill="none" stroke="#a0a0a0" stroke-width="1.0"/><path d="M14.4 2.4 Q21.4 8 14.4 13.3" fill="none" stroke="#a0a0a0" stroke-width="1.0"/>
<path d="M3.4 13.3 V2.4 H14.4 V13.3" fill="none" stroke="#505050" stroke-width="1.3"/><path d="M3.6 3 Q9 7.6 14.2 3" fill="none" stroke="#8a8a8a" stroke-width="0.8"/><rect x="2.4" y="12.4" width="2" height="2" fill="#909090"/><rect x="13.4" y="12.4" width="2" height="2" fill="#909090"/></svg>
<div class="t " style="left:124px;top:695px;">Local</div>
<div class="cb cbw" style="left:101px;top:715px"></div><svg style="left:124px;top:716px" width="19" height="16" ><path d="M3.4 2.4 Q-3.6 8 3.4 13.3" fill="none" stroke="#3c3c3c" stroke-width="0.8"/><path d="M14.4 2.4 Q21.4 8 14.4 13.3" fill="none" stroke="#3c3c3c" stroke-width="0.8"/>
<path d="M3.4 13.3 V2.4 H14.4 V13.3" fill="none" stroke="#151515" stroke-width="1.3"/><path d="M3.6 3 Q9 7.6 14.2 3" fill="none" stroke="#444" stroke-width="0.8"/><circle cx="3.4" cy="2.4" r="1.35" fill="#e01010"/><circle cx="14.4" cy="2.4" r="1.35" fill="#e01010"/><circle cx="3.4" cy="13.3" r="1.35" fill="#e01010"/><circle cx="14.4" cy="13.3" r="1.35" fill="#e01010"/></svg>
<div class="t " style="left:149px;top:718px;">p<span class="sub">x</span></div>
</div>
<div class="a " style="left:357px;top:238px;width:20px;height:724px;background:#f0f0f0"></div>
<div class="a " style="left:358px;top:561px;width:18px;height:345px;background:#cdcdcd"></div>
<svg style="left:362.0px;top:245.4px" width="9" height="6.2" ><path d="M0.3 5.2 L4.5 0.5 L8.7 5.2" fill="none" stroke="#484848" stroke-width="1.9"/></svg>
<svg style="left:362.0px;top:948.4px" width="9" height="6.2" ><path d="M0.3 0.3 L4.5 5.2 L8.7 0.3" fill="none" stroke="#484848" stroke-width="1.9"/></svg>
<div class="a " style="left:276px;top:967px;width:29px;height:24px;background:#cce4f7"></div>
<div class="a " style="left:309px;top:967px;width:29px;height:24px;background:#cce4f7"></div>
<div class="a " style="left:342px;top:967px;width:29px;height:24px;background:#cce4f7"></div>
<svg style="left:280px;top:970px" width="22" height="19" ><g><rect x="0.5" y="0.5" width="7" height="7" rx="1.2" fill="#d8e4f0" stroke="#8d98a5" stroke-width="0.9"/><path d="M1.2 3.8 L3.6 6.5 L7 0.6" fill="none" stroke="#111" stroke-width="1.3"/></g><g transform="translate(0,10)"><rect x="0.5" y="0.5" width="7" height="7" rx="1.2" fill="#d8e4f0" stroke="#8d98a5" stroke-width="0.9"/><path d="M1.2 3.8 L3.6 6.5 L7 0.6" fill="none" stroke="#111" stroke-width="1.3"/></g><path d="M9.5 9.5 Q11.5 11 13 14.5 Q15.5 8 19.5 4 Q15 7 12.8 11.2 Q11.5 9.8 9.5 9.5Z" fill="#18a848" stroke="#18a848" stroke-width="0.8"/></svg>
<svg style="left:313px;top:970px" width="22" height="19" ><g><rect x="0.5" y="0.5" width="7" height="7" rx="1.2" fill="#d8e4f0" stroke="#8d98a5" stroke-width="0.9"/></g><g transform="translate(0,10)"><rect x="0.5" y="0.5" width="7" height="7" rx="1.2" fill="#d8e4f0" stroke="#8d98a5" stroke-width="0.9"/></g><path d="M10.5 4.5 L18.5 13.5 M18.5 4.5 L10.5 13.5" stroke="#e83020" stroke-width="2.8"/></svg>
<svg style="left:346px;top:970px" width="22" height="19" ><g><rect x="0.5" y="0.5" width="7" height="7" rx="1.2" fill="#d8e4f0" stroke="#8d98a5" stroke-width="0.9"/><path d="M1.2 3.8 L3.6 6.5 L7 0.6" fill="none" stroke="#111" stroke-width="1.3"/></g><g transform="translate(0,10)"><rect x="0.5" y="0.5" width="7" height="7" rx="1.2" fill="#d8e4f0" stroke="#8d98a5" stroke-width="0.9"/></g><path d="M19 5.5 Q15 2.5 10.5 5" fill="none" stroke="#28a838" stroke-width="1.6"/><path d="M9 3.5 L9.2 7.8 L13 6.6 Z" fill="#28a838"/><path d="M9.5 10.5 Q13.5 13.5 18 11" fill="none" stroke="#28a838" stroke-width="1.6"/><path d="M19.5 12.5 L19.3 8.2 L15.5 9.4 Z" fill="#28a838"/></svg>
<div class="a " style="left:387px;top:106px;width:1521px;height:890px;background:#fff"></div>
<div class="a " style="left:387px;top:106px;width:1521px;height:63px;background:#f0f0f0"></div>
<div class="a " style="left:387px;top:418px;width:1500px;height:25px;background:#dcdcdc"></div>
<div class="t " style="left:391px;top:424px;">Basic Internal Forces | n<span class="sub" style="top:2.2px">y</span> [kip/ft]</div>
<div class="a " style="left:387px;top:707px;width:1500px;height:25px;background:#dcdcdc"></div>
<div class="t " style="left:391px;top:713px;">Basic Internal Forces | n<span class="sub" style="top:2.2px">xy</span> [kip/ft]</div>
<div class="a " style="left:1887px;top:169px;width:21px;height:827px;background:#f0f0f0"></div>
<div class="a " style="left:1888px;top:227px;width:19px;height:748px;background:#cdcdcd"></div>
<svg style="left:1893.0px;top:177.4px" width="9" height="6.2" ><path d="M0.3 5.2 L4.5 0.5 L8.7 5.2" fill="none" stroke="#484848" stroke-width="1.9"/></svg>
<svg style="left:1893.0px;top:981.9px" width="9" height="6.2" ><path d="M0.3 0.3 L4.5 5.2 L8.7 0.3" fill="none" stroke="#484848" stroke-width="1.9"/></svg>
<svg style="left:0;top:0" width="1920" height="1030"><style>.cl{font-family:"Liberation Sans",sans-serif;font-size:9.8px} .rl{font-family:"Liberation Sans",sans-serif;font-size:11.3px;fill:#000}</style><defs><clipPath id="cc"><rect x="387" y="169" width="1500" height="827"/></clipPath></defs><g shape-rendering="crispEdges"><rect x="443" y="144" width="1051" height="1" fill="#000"/><rect x="443" y="143" width="1051" height="1" fill="#000" opacity="0.45"/><rect x="443" y="131" width="1" height="14" fill="#000"/><rect x="451" y="139" width="1" height="6" fill="#000"/><rect x="459" y="139" width="1" height="6" fill="#000"/><rect x="467" y="139" width="1" height="6" fill="#000"/><rect x="475" y="139" width="1" height="6" fill="#000"/><rect x="483" y="135" width="1" height="10" fill="#000"/><rect x="491" y="139" width="1" height="6" fill="#000"/><rect x="499" y="139" width="1" height="6" fill="#000"/><rect x="507" y="139" width="1" height="6" fill="#000"/><rect x="515" y="139" width="1" height="6" fill="#000"/><rect x="523" y="131" width="1" height="14" fill="#000"/><rect x="531" y="139" width="1" height="6" fill="#000"/><rect x="539" y="139" width="1" height="6" fill="#000"/><rect x="547" y="139" width="1" height="6" fill="#000"/><rect x="555" y="139" width="1" height="6" fill="#000"/><rect x="563" y="135" width="1" height="10" fill="#000"/><rect x="571" y="139" width="1" height="6" fill="#000"/><rect x="579" y="139" width="1" height="6" fill="#000"/><rect x="587" y="139" width="1" height="6" fill="#000"/><rect x="595" y="139" width="1" height="6" fill="#000"/><rect x="603" y="131" width="1" height="14" fill="#000"/><rect x="611" y="139" width="1" height="6" fill="#000"/><rect x="619" y="139" width="1" height="6" fill="#000"/><rect x="627" y="139" width="1" height="6" fill="#000"/><rect x="635" y="139" width="1" height="6" fill="#000"/><rect x="643" y="135" width="1" height="10" fill="#000"/><rect x="651" y="139" width="1" height="6" fill="#000"/><rect x="659" y="139" width="1" height="6" fill="#000"/><rect x="667" y="139" width="1" height="6" fill="#000"/><rect x="675" y="139" width="1" height="6" fill="#000"/><rect x="683" y="131" width="1" height="14" fill="#000"/><rect x="691" y="139" width="1" height="6" fill="#000"/><rect x="699" y="139" width="1" height="6" fill="#000"/><rect x="707" y="139" width="1" height="6" fill="#000"/><rect x="715" y="139" width="1" height="6" fill="#000"/><rect x="723" y="135" width="1" height="10" fill="#000"/><rect x="731" y="139" width="1" height="6" fill="#000"/><rect x="739" y="139" width="1" height="6" fill="#000"/><rect x="747" y="139" width="1" height="6" fill="#000"/><rect x="755" y="139" width="1" height="6" fill="#000"/><rect x="763" y="131" width="1" height="14" fill="#000"/><rect x="771" y="139" width="1" height="6" fill="#000"/><rect x="779" y="139" width="1" height="6" fill="#000"/><rect x="787" y="139" width="1" height="6" fill="#000"/><rect x="795" y="139" width="1" height="6" fill="#000"/><rect x="803" y="135" width="1" height="10" fill="#000"/><rect x="811" y="139" width="1" height="6" fill="#000"/><rect x="819" y="139" width="1" height="6" fill="#000"/><rect x="827" y="139" width="1" height="6" fill="#000"/><rect x="835" y="139" width="1" height="6" fill="#000"/><rect x="843" y="131" width="1" height="14" fill="#000"/><rect x="851" y="139" width="1" height="6" fill="#000"/><rect x="859" y="139" width="1" height="6" fill="#000"/><rect x="867" y="139" width="1" height="6" fill="#000"/><rect x="875" y="139" width="1" height="6" fill="#000"/><rect x="883" y="135" width="1" height="10" fill="#000"/><rect x="891" y="139" width="1" height="6" fill="#000"/><rect x="899" y="139" width="1" height="6" fill="#000"/><rect x="907" y="139" width="1" height="6" fill="#000"/><rect x="915" y="139" width="1" height="6" fill="#000"/><rect x="923" y="131" width="1" height="14" fill="#000"/><rect x="931" y="139" width="1" height="6" fill="#000"/><rect x="939" y="139" width="1" height="6" fill="#000"/><rect x="947" y="139" width="1" height="6" fill="#000"/><rect x="955" y="139" width="1" height="6" fill="#000"/><rect x="963" y="135" width="1" height="10" fill="#000"/><rect x="971" y="139" width="1" height="6" fill="#000"/><rect x="979" y="139" width="1" height="6" fill="#000"/><rect x="987" y="139" width="1" height="6" fill="#000"/><rect x="995" y="139" width="1" height="6" fill="#000"/><rect x="1003" y="131" width="1" height="14" fill="#000"/><rect x="1011" y="139" width="1" height="6" fill="#000"/><rect x="1019" y="139" width="1" height="6" fill="#000"/><rect x="1027" y="139" width="1" height="6" fill="#000"/><rect x="1035" y="139" width="1" height="6" fill="#000"/><rect x="1043" y="135" width="1" height="10" fill="#000"/><rect x="1051" y="139" width="1" height="6" fill="#000"/><rect x="1059" y="139" width="1" height="6" fill="#000"/><rect x="1067" y="139" width="1" height="6" fill="#000"/><rect x="1075" y="139" width="1" height="6" fill="#000"/><rect x="1083" y="131" width="1" height="14" fill="#000"/><rect x="1091" y="139" width="1" height="6" fill="#000"/><rect x="1099" y="139" width="1" height="6" fill="#000"/><rect x="1107" y="139" width="1" height="6" fill="#000"/><rect x="1115" y="139" width="1" height="6" fill="#000"/><rect x="1123" y="135" width="1" height="10" fill="#000"/><rect x="1131" y="139" width="1" height="6" fill="#000"/><rect x="1139" y="139" width="1" height="6" fill="#000"/><rect x="1147" y="139" width="1" height="6" fill="#000"/><rect x="1155" y="139" width="1" height="6" fill="#000"/><rect x="1163" y="131" width="1" height="14" fill="#000"/><rect x="1171" y="139" width="1" height="6" fill="#000"/><rect x="1179" y="139" width="1" height="6" fill="#000"/><rect x="1187" y="139" width="1" height="6" fill="#000"/><rect x="1195" y="139" width="1" height="6" fill="#000"/><rect x="1203" y="135" width="1" height="10" fill="#000"/><rect x="1211" y="139" width="1" height="6" fill="#000"/><rect x="1219" y="139" width="1" height="6" fill="#000"/><rect x="1227" y="139" width="1" height="6" fill="#000"/><rect x="1235" y="139" width="1" height="6" fill="#000"/><rect x="1243" y="131" width="1" height="14" fill="#000"/><rect x="1251" y="139" width="1" height="6" fill="#000"/><rect x="1259" y="139" width="1" height="6" fill="#000"/><rect x="1267" y="139" width="1" height="6" fill="#000"/><rect x="1275" y="139" width="1" height="6" fill="#000"/><rect x="1283" y="135" width="1" height="10" fill="#000"/><rect x="1291" y="139" width="1" height="6" fill="#000"/><rect x="1299" y="139" width="1" height="6" fill="#000"/><rect x="1307" y="139" width="1" height="6" fill="#000"/><rect x="1315" y="139" width="1" height="6" fill="#000"/><rect x="1323" y="131" width="1" height="14" fill="#000"/><rect x="1331" y="139" width="1" height="6" fill="#000"/><rect x="1339" y="139" width="1" height="6" fill="#000"/><rect x="1347" y="139" width="1" height="6" fill="#000"/><rect x="1355" y="139" width="1" height="6" fill="#000"/><rect x="1363" y="135" width="1" height="10" fill="#000"/><rect x="1371" y="139" width="1" height="6" fill="#000"/><rect x="1379" y="139" width="1" height="6" fill="#000"/><rect x="1387" y="139" width="1" height="6" fill="#000"/><rect x="1395" y="139" width="1" height="6" fill="#000"/><rect x="1403" y="131" width="1" height="14" fill="#000"/><rect x="1411" y="139" width="1" height="6" fill="#000"/><rect x="1419" y="139" width="1" height="6" fill="#000"/><rect x="1427" y="139" width="1" height="6" fill="#000"/><rect x="1435" y="139" width="1" height="6" fill="#000"/><rect x="1443" y="135" width="1" height="10" fill="#000"/><rect x="1451" y="139" width="1" height="6" fill="#000"/><rect x="1459" y="139" width="1" height="6" fill="#000"/><rect x="1467" y="139" width="1" height="6" fill="#000"/><rect x="1475" y="139" width="1" height="6" fill="#000"/><rect x="1483" y="131" width="1" height="14" fill="#000"/><rect x="1491" y="139" width="1" height="6" fill="#000"/><rect x="443" y="131" width="1" height="26" fill="#000"/><rect x="1493" y="131" width="1" height="26" fill="#000"/><rect x="1014" y="106" width="1" height="63" fill="#000"/></g><text x="442.6" y="122" text-anchor="middle" class="rl">0.00</text><text x="522.6" y="122" text-anchor="middle" class="rl">0.50</text><text x="602.6" y="122" text-anchor="middle" class="rl">1.00</text><text x="682.6" y="122" text-anchor="middle" class="rl">1.50</text><text x="762.6" y="122" text-anchor="middle" class="rl">2.00</text><text x="842.6" y="122" text-anchor="middle" class="rl">2.50</text><text x="922.6" y="122" text-anchor="middle" class="rl">3.00</text><text x="1002.6" y="122" text-anchor="middle" class="rl">3.50</text><text x="1082.6" y="122" text-anchor="middle" class="rl">4.00</text><text x="1162.6" y="122" text-anchor="middle" class="rl">4.50</text><text x="1242.6" y="122" text-anchor="middle" class="rl">5.00</text><text x="1322.6" y="122" text-anchor="middle" class="rl">5.50</text><text x="1402.6" y="122" text-anchor="middle" class="rl">6.00</text><text x="1493" y="122" text-anchor="middle" class="rl">6.56 ft</text><text x="968" y="161" text-anchor="middle" class="rl" style="font-size:10.8px">»R13/S13»</text><g clip-path="url(#cc)"><rect x="443" y="217.07" width="132" height="0.93" fill="#cff1f8"/><rect x="574" y="218.0" width="132" height="74.77" fill="#fde6c8"/><rect x="705" y="218.0" width="132" height="92.81" fill="#fde6c8"/><rect x="836" y="218.0" width="132" height="102.11" fill="#fde6c8"/><rect x="967" y="218.0" width="133" height="108.25" fill="#fde6c8"/><rect x="1099" y="218.0" width="132" height="115.13" fill="#fde6c8"/><rect x="1230" y="218.0" width="132" height="136.71" fill="#fde6c8"/><rect x="1361" y="218.0" width="132" height="67.52" fill="#fde6c8"/><path d="M443 217.07 H575" stroke="#7c7c7c" stroke-width="1.4"/><rect x="443" y="217.07" width="1" height="1.53" fill="#636363" shape-rendering="crispEdges"/><rect x="574" y="217.07" width="1" height="1.53" fill="#636363" shape-rendering="crispEdges"/><path d="M574 292.77 H706" stroke="#7c7c7c" stroke-width="1.4"/><rect x="574" y="218.0" width="1" height="75.37" fill="#636363" shape-rendering="crispEdges"/><rect x="705" y="218.0" width="1" height="75.37" fill="#636363" shape-rendering="crispEdges"/><path d="M705 310.81 H837" stroke="#7c7c7c" stroke-width="1.4"/><rect x="705" y="218.0" width="1" height="93.41" fill="#636363" shape-rendering="crispEdges"/><rect x="836" y="218.0" width="1" height="93.41" fill="#636363" shape-rendering="crispEdges"/><path d="M836 320.11 H968" stroke="#7c7c7c" stroke-width="1.4"/><rect x="836" y="218.0" width="1" height="102.71" fill="#636363" shape-rendering="crispEdges"/><rect x="967" y="218.0" width="1" height="102.71" fill="#636363" shape-rendering="crispEdges"/><path d="M967 326.25 H1100" stroke="#7c7c7c" stroke-width="1.4"/><rect x="967" y="218.0" width="1" height="108.85" fill="#636363" shape-rendering="crispEdges"/><rect x="1099" y="218.0" width="1" height="108.85" fill="#636363" shape-rendering="crispEdges"/><path d="M1099 333.13 H1231" stroke="#7c7c7c" stroke-width="1.4"/><rect x="1099" y="218.0" width="1" height="115.73" fill="#636363" shape-rendering="crispEdges"/><rect x="1230" y="218.0" width="1" height="115.73" fill="#636363" shape-rendering="crispEdges"/><path d="M1230 354.71 H1362" stroke="#7c7c7c" stroke-width="1.4"/><rect x="1230" y="218.0" width="1" height="137.31" fill="#636363" shape-rendering="crispEdges"/><rect x="1361" y="218.0" width="1" height="137.31" fill="#636363" shape-rendering="crispEdges"/><path d="M1361 285.52 H1493" stroke="#7c7c7c" stroke-width="1.4"/><rect x="1361" y="218.0" width="1" height="68.12" fill="#636363" shape-rendering="crispEdges"/><rect x="1492" y="218.0" width="1" height="68.12" fill="#636363" shape-rendering="crispEdges"/><rect x="1492" y="218.0" width="1.6" height="67.52" fill="#7a7a7a"/><rect x="442.6" y="217.07" width="1.5" height="0.93" fill="#7a7a7a"/><path d="M548.5 218.0 V217.07" stroke="#2f8f7f" stroke-width="1" stroke-dasharray="3.4 2" shape-rendering="crispEdges"/><path d="M653.5 218.0 V292.77" stroke="#ffffff" stroke-width="1" shape-rendering="crispEdges"/><path d="M653.5 218.0 V292.77" stroke="#2f8f7f" stroke-width="1" stroke-dasharray="3.4 2" shape-rendering="crispEdges"/><path d="M758.5 218.0 V310.81" stroke="#ffffff" stroke-width="1" shape-rendering="crispEdges"/><path d="M758.5 218.0 V310.81" stroke="#2f8f7f" stroke-width="1" stroke-dasharray="3.4 2" shape-rendering="crispEdges"/><path d="M863.5 218.0 V320.11" stroke="#ffffff" stroke-width="1" shape-rendering="crispEdges"/><path d="M863.5 218.0 V320.11" stroke="#2f8f7f" stroke-width="1" stroke-dasharray="3.4 2" shape-rendering="crispEdges"/><path d="M968.5 218.0 V326.25" stroke="#ffffff" stroke-width="1" shape-rendering="crispEdges"/><path d="M968.5 218.0 V326.25" stroke="#2f8f7f" stroke-width="1" stroke-dasharray="3.4 2" shape-rendering="crispEdges"/><path d="M1073.5 218.0 V326.25" stroke="#ffffff" stroke-width="1" shape-rendering="crispEdges"/><path d="M1073.5 218.0 V326.25" stroke="#2f8f7f" stroke-width="1" stroke-dasharray="3.4 2" shape-rendering="crispEdges"/><path d="M1178.5 218.0 V333.13" stroke="#ffffff" stroke-width="1" shape-rendering="crispEdges"/><path d="M1178.5 218.0 V333.13" stroke="#2f8f7f" stroke-width="1" stroke-dasharray="3.4 2" shape-rendering="crispEdges"/><path d="M1283.5 218.0 V354.71" stroke="#ffffff" stroke-width="1" shape-rendering="crispEdges"/><path d="M1283.5 218.0 V354.71" stroke="#2f8f7f" stroke-width="1" stroke-dasharray="3.4 2" shape-rendering="crispEdges"/><path d="M1388.5 218.0 V285.52" stroke="#ffffff" stroke-width="1" shape-rendering="crispEdges"/><path d="M1388.5 218.0 V285.52" stroke="#2f8f7f" stroke-width="1" stroke-dasharray="3.4 2" shape-rendering="crispEdges"/><rect x="442.0" y="217.0" width="1052.1" height="2" fill="#00008b" shape-rendering="crispEdges"/><rect x="441" y="216" width="4" height="4" fill="#00008b"/><rect x="1491" y="216" width="4" height="4" fill="#00008b"/><rect x="441" y="215" width="4" height="4" fill="#0000ff"/><text transform="translate(446.5,209.57) rotate(-90) scale(0.9,1)" text-anchor="start" fill="#1a1aff" class="cl">-0.0010</text><rect x="546" y="215" width="4" height="4" fill="#9a9a9a"/><text transform="translate(551.5,209.57) rotate(-90) scale(0.9,1)" text-anchor="start" fill="#a2a2a2" class="cl">-0.0010</text><rect x="651" y="291" width="4" height="4" fill="#9a9a9a"/><text transform="translate(656.5,298.77) rotate(-90) scale(0.9,1)" text-anchor="end" fill="#a2a2a2" class="cl">0.0804</text><rect x="756" y="309" width="4" height="4" fill="#9a9a9a"/><text transform="translate(761.5,316.81) rotate(-90) scale(0.9,1)" text-anchor="end" fill="#a2a2a2" class="cl">0.0998</text><rect x="861" y="318" width="4" height="4" fill="#9a9a9a"/><text transform="translate(866.5,326.11) rotate(-90) scale(0.9,1)" text-anchor="end" fill="#a2a2a2" class="cl">0.1098</text><rect x="1071" y="324" width="4" height="4" fill="#9a9a9a"/><text transform="translate(1076.5,332.25) rotate(-90) scale(0.9,1)" text-anchor="end" fill="#a2a2a2" class="cl">0.1164</text><rect x="1176" y="331" width="4" height="4" fill="#9a9a9a"/><text transform="translate(1181.5,339.13) rotate(-90) scale(0.9,1)" text-anchor="end" fill="#a2a2a2" class="cl">0.1238</text><rect x="1281" y="353" width="4" height="4" fill="#9a9a9a"/><text transform="translate(1286.5,360.71) rotate(-90) scale(0.9,1)" text-anchor="end" fill="#a2a2a2" class="cl">0.1470</text><rect x="1386" y="284" width="4" height="4" fill="#9a9a9a"/><text transform="translate(1391.5,291.52) rotate(-90) scale(0.9,1)" text-anchor="end" fill="#a2a2a2" class="cl">0.0726</text><rect x="1491" y="284" width="4" height="4" fill="#9a9a9a"/><text transform="translate(1496.5,291.52) rotate(-90) scale(0.9,1)" text-anchor="end" fill="#a2a2a2" class="cl">0.0726</text><rect x="1228" y="353" width="4" height="4" fill="#ff0000"/><text transform="translate(1233.5,360.71) rotate(-90) scale(0.9,1)" text-anchor="end" fill="#ff1a1a" class="cl">0.1470</text><rect x="1011" y="323" width="9" height="8" fill="#ff00ff" shape-rendering="crispEdges"/><rect x="956" y="330" width="58" height="18" fill="#f0f0f0" shape-rendering="crispEdges"/><text x="958" y="343" font-size="9.8" fill="#6a6a6a" font-family="Liberation Sans">0.1164 kip/ft</text><rect x="443" y="506.33" width="132" height="26.67" fill="#cff1f8"/><rect x="574" y="530.64" width="132" height="2.36" fill="#cff1f8"/><rect x="705" y="533.0" width="132" height="16.49" fill="#fde6c8"/><rect x="836" y="533.0" width="132" height="35.42" fill="#fde6c8"/><rect x="967" y="533.0" width="133" height="54.85" fill="#fde6c8"/><rect x="1099" y="533.0" width="132" height="74.99" fill="#fde6c8"/><rect x="1230" y="533.0" width="132" height="97.71" fill="#fde6c8"/><rect x="1361" y="533.0" width="132" height="111.15" fill="#fde6c8"/><path d="M443 506.33 H575" stroke="#7c7c7c" stroke-width="1.4"/><rect x="443" y="506.33" width="1" height="27.27" fill="#636363" shape-rendering="crispEdges"/><rect x="574" y="506.33" width="1" height="27.27" fill="#636363" shape-rendering="crispEdges"/><path d="M574 530.64 H706" stroke="#7c7c7c" stroke-width="1.4"/><rect x="574" y="530.64" width="1" height="2.96" fill="#636363" shape-rendering="crispEdges"/><rect x="705" y="530.64" width="1" height="2.96" fill="#636363" shape-rendering="crispEdges"/><path d="M705 549.49 H837" stroke="#7c7c7c" stroke-width="1.4"/><rect x="705" y="533.0" width="1" height="17.09" fill="#636363" shape-rendering="crispEdges"/><rect x="836" y="533.0" width="1" height="17.09" fill="#636363" shape-rendering="crispEdges"/><path d="M836 568.42 H968" stroke="#7c7c7c" stroke-width="1.4"/><rect x="836" y="533.0" width="1" height="36.02" fill="#636363" shape-rendering="crispEdges"/><rect x="967" y="533.0" width="1" height="36.02" fill="#636363" shape-rendering="crispEdges"/><path d="M967 587.85 H1100" stroke="#7c7c7c" stroke-width="1.4"/><rect x="967" y="533.0" width="1" height="55.45" fill="#636363" shape-rendering="crispEdges"/><rect x="1099" y="533.0" width="1" height="55.45" fill="#636363" shape-rendering="crispEdges"/><path d="M1099 607.99 H1231" stroke="#7c7c7c" stroke-width="1.4"/><rect x="1099" y="533.0" width="1" height="75.59" fill="#636363" shape-rendering="crispEdges"/><rect x="1230" y="533.0" width="1" height="75.59" fill="#636363" shape-rendering="crispEdges"/><path d="M1230 630.71 H1362" stroke="#7c7c7c" stroke-width="1.4"/><rect x="1230" y="533.0" width="1" height="98.31" fill="#636363" shape-rendering="crispEdges"/><rect x="1361" y="533.0" width="1" height="98.31" fill="#636363" shape-rendering="crispEdges"/><path d="M1361 644.15 H1493" stroke="#7c7c7c" stroke-width="1.4"/><rect x="1361" y="533.0" width="1" height="111.75" fill="#636363" shape-rendering="crispEdges"/><rect x="1492" y="533.0" width="1" height="111.75" fill="#636363" shape-rendering="crispEdges"/><rect x="1492" y="533.0" width="1.6" height="111.15" fill="#7a7a7a"/><rect x="442.6" y="506.33" width="1.5" height="26.67" fill="#7a7a7a"/><path d="M548.5 533.0 V506.33" stroke="#ffffff" stroke-width="1" shape-rendering="crispEdges"/><path d="M548.5 533.0 V506.33" stroke="#2f8f7f" stroke-width="1" stroke-dasharray="3.4 2" shape-rendering="crispEdges"/><path d="M653.5 533.0 V530.64" stroke="#2f8f7f" stroke-width="1" stroke-dasharray="3.4 2" shape-rendering="crispEdges"/><path d="M758.5 533.0 V549.49" stroke="#ffffff" stroke-width="1" shape-rendering="crispEdges"/><path d="M758.5 533.0 V549.49" stroke="#2f8f7f" stroke-width="1" stroke-dasharray="3.4 2" shape-rendering="crispEdges"/><path d="M863.5 533.0 V568.42" stroke="#ffffff" stroke-width="1" shape-rendering="crispEdges"/><path d="M863.5 533.0 V568.42" stroke="#2f8f7f" stroke-width="1" stroke-dasharray="3.4 2" shape-rendering="crispEdges"/><path d="M968.5 533.0 V587.85" stroke="#ffffff" stroke-width="1" shape-rendering="crispEdges"/><path d="M968.5 533.0 V587.85" stroke="#2f8f7f" stroke-width="1" stroke-dasharray="3.4 2" shape-rendering="crispEdges"/><path d="M1073.5 533.0 V587.85" stroke="#ffffff" stroke-width="1" shape-rendering="crispEdges"/><path d="M1073.5 533.0 V587.85" stroke="#2f8f7f" stroke-width="1" stroke-dasharray="3.4 2" shape-rendering="crispEdges"/><path d="M1178.5 533.0 V607.99" stroke="#ffffff" stroke-width="1" shape-rendering="crispEdges"/><path d="M1178.5 533.0 V607.99" stroke="#2f8f7f" stroke-width="1" stroke-dasharray="3.4 2" shape-rendering="crispEdges"/><path d="M1283.5 533.0 V630.71" stroke="#ffffff" stroke-width="1" shape-rendering="crispEdges"/><path d="M1283.5 533.0 V630.71" stroke="#2f8f7f" stroke-width="1" stroke-dasharray="3.4 2" shape-rendering="crispEdges"/><path d="M1388.5 533.0 V644.15" stroke="#ffffff" stroke-width="1" shape-rendering="crispEdges"/><path d="M1388.5 533.0 V644.15" stroke="#2f8f7f" stroke-width="1" stroke-dasharray="3.4 2" shape-rendering="crispEdges"/><rect x="442.0" y="532.0" width="1052.1" height="2" fill="#00008b" shape-rendering="crispEdges"/><rect x="441" y="531" width="4" height="4" fill="#00008b"/><rect x="1491" y="531" width="4" height="4" fill="#00008b"/><rect x="441" y="504" width="4" height="4" fill="#0000ff"/><text transform="translate(446.5,498.83) rotate(-90) scale(0.9,1)" text-anchor="start" fill="#1a1aff" class="cl">-1.0220</text><rect x="546" y="504" width="4" height="4" fill="#9a9a9a"/><text transform="translate(551.5,498.83) rotate(-90) scale(0.9,1)" text-anchor="start" fill="#a2a2a2" class="cl">-1.0220</text><rect x="651" y="529" width="4" height="4" fill="#9a9a9a"/><text transform="translate(656.5,523.14) rotate(-90) scale(0.9,1)" text-anchor="start" fill="#a2a2a2" class="cl">-0.0904</text><rect x="756" y="547" width="4" height="4" fill="#9a9a9a"/><text transform="translate(761.5,555.49) rotate(-90) scale(0.9,1)" text-anchor="end" fill="#a2a2a2" class="cl">0.6318</text><rect x="861" y="566" width="4" height="4" fill="#9a9a9a"/><text transform="translate(866.5,574.42) rotate(-90) scale(0.9,1)" text-anchor="end" fill="#a2a2a2" class="cl">1.3571</text><rect x="1071" y="586" width="4" height="4" fill="#9a9a9a"/><text transform="translate(1076.5,593.85) rotate(-90) scale(0.9,1)" text-anchor="end" fill="#a2a2a2" class="cl">2.1016</text><rect x="1176" y="606" width="4" height="4" fill="#9a9a9a"/><text transform="translate(1181.5,613.99) rotate(-90) scale(0.9,1)" text-anchor="end" fill="#a2a2a2" class="cl">2.8733</text><rect x="1281" y="629" width="4" height="4" fill="#9a9a9a"/><text transform="translate(1286.5,636.71) rotate(-90) scale(0.9,1)" text-anchor="end" fill="#a2a2a2" class="cl">3.7435</text><rect x="1386" y="642" width="4" height="4" fill="#9a9a9a"/><text transform="translate(1391.5,650.15) rotate(-90) scale(0.9,1)" text-anchor="end" fill="#a2a2a2" class="cl">4.2588</text><rect x="1491" y="642" width="4" height="4" fill="#9a9a9a"/><text transform="translate(1496.5,650.15) rotate(-90) scale(0.9,1)" text-anchor="end" fill="#a2a2a2" class="cl">4.2588</text><rect x="1360" y="642" width="4" height="4" fill="#ff0000"/><text transform="translate(1364.5,650.15) rotate(-90) scale(0.9,1)" text-anchor="end" fill="#ff1a1a" class="cl">4.2588</text><rect x="1011" y="585" width="9" height="8" fill="#ff00ff" shape-rendering="crispEdges"/><rect x="956" y="592" width="58" height="18" fill="#f0f0f0" shape-rendering="crispEdges"/><text x="958" y="605" font-size="9.8" fill="#6a6a6a" font-family="Liberation Sans">2.1016 kip/ft</text><rect x="443" y="900.0" width="132" height="32.74" fill="#fde6c8"/><rect x="574" y="900.0" width="132" height="3.85" fill="#fde6c8"/><rect x="705" y="900.0" width="132" height="1.42" fill="#fde6c8"/><rect x="836" y="900.0" width="132" height="0.71" fill="#fde6c8"/><rect x="967" y="900.0" width="133" height="1.78" fill="#fde6c8"/><rect x="1099" y="900.0" width="132" height="3.49" fill="#fde6c8"/><rect x="1230" y="900.0" width="132" height="2.25" fill="#fde6c8"/><rect x="1361" y="794.8" width="132" height="105.2" fill="#cff1f8"/><path d="M443 932.74 H575" stroke="#7c7c7c" stroke-width="1.4"/><rect x="443" y="900.0" width="1" height="33.34" fill="#636363" shape-rendering="crispEdges"/><rect x="574" y="900.0" width="1" height="33.34" fill="#636363" shape-rendering="crispEdges"/><path d="M574 903.85 H706" stroke="#7c7c7c" stroke-width="1.4"/><rect x="574" y="900.0" width="1" height="4.45" fill="#636363" shape-rendering="crispEdges"/><rect x="705" y="900.0" width="1" height="4.45" fill="#636363" shape-rendering="crispEdges"/><path d="M705 901.42 H837" stroke="#7c7c7c" stroke-width="1.4"/><rect x="705" y="900.0" width="1" height="2.02" fill="#636363" shape-rendering="crispEdges"/><rect x="836" y="900.0" width="1" height="2.02" fill="#636363" shape-rendering="crispEdges"/><path d="M836 900.71 H968" stroke="#7c7c7c" stroke-width="1.4"/><rect x="836" y="900.0" width="1" height="1.31" fill="#636363" shape-rendering="crispEdges"/><rect x="967" y="900.0" width="1" height="1.31" fill="#636363" shape-rendering="crispEdges"/><path d="M967 901.78 H1100" stroke="#7c7c7c" stroke-width="1.4"/><rect x="967" y="900.0" width="1" height="2.38" fill="#636363" shape-rendering="crispEdges"/><rect x="1099" y="900.0" width="1" height="2.38" fill="#636363" shape-rendering="crispEdges"/><path d="M1099 903.49 H1231" stroke="#7c7c7c" stroke-width="1.4"/><rect x="1099" y="900.0" width="1" height="4.09" fill="#636363" shape-rendering="crispEdges"/><rect x="1230" y="900.0" width="1" height="4.09" fill="#636363" shape-rendering="crispEdges"/><path d="M1230 902.25 H1362" stroke="#7c7c7c" stroke-width="1.4"/><rect x="1230" y="900.0" width="1" height="2.85" fill="#636363" shape-rendering="crispEdges"/><rect x="1361" y="900.0" width="1" height="2.85" fill="#636363" shape-rendering="crispEdges"/><path d="M1361 794.8 H1493" stroke="#7c7c7c" stroke-width="1.4"/><rect x="1361" y="794.8" width="1" height="105.8" fill="#636363" shape-rendering="crispEdges"/><rect x="1492" y="794.8" width="1" height="105.8" fill="#636363" shape-rendering="crispEdges"/><rect x="1492" y="794.8" width="1.6" height="105.2" fill="#7a7a7a"/><rect x="442.6" y="900.0" width="1.5" height="32.74" fill="#7a7a7a"/><path d="M548.5 900.0 V932.74" stroke="#ffffff" stroke-width="1" shape-rendering="crispEdges"/><path d="M548.5 900.0 V932.74" stroke="#2f8f7f" stroke-width="1" stroke-dasharray="3.4 2" shape-rendering="crispEdges"/><path d="M653.5 900.0 V903.85" stroke="#ffffff" stroke-width="1" shape-rendering="crispEdges"/><path d="M653.5 900.0 V903.85" stroke="#2f8f7f" stroke-width="1" stroke-dasharray="3.4 2" shape-rendering="crispEdges"/><path d="M758.5 900.0 V901.42" stroke="#2f8f7f" stroke-width="1" stroke-dasharray="3.4 2" shape-rendering="crispEdges"/><path d="M863.5 900.0 V900.71" stroke="#2f8f7f" stroke-width="1" stroke-dasharray="3.4 2" shape-rendering="crispEdges"/><path d="M968.5 900.0 V901.78" stroke="#2f8f7f" stroke-width="1" stroke-dasharray="3.4 2" shape-rendering="crispEdges"/><path d="M1073.5 900.0 V901.78" stroke="#2f8f7f" stroke-width="1" stroke-dasharray="3.4 2" shape-rendering="crispEdges"/><path d="M1178.5 900.0 V903.49" stroke="#ffffff" stroke-width="1" shape-rendering="crispEdges"/><path d="M1178.5 900.0 V903.49" stroke="#2f8f7f" stroke-width="1" stroke-dasharray="3.4 2" shape-rendering="crispEdges"/><path d="M1283.5 900.0 V902.25" stroke="#2f8f7f" stroke-width="1" stroke-dasharray="3.4 2" shape-rendering="crispEdges"/><path d="M1388.5 900.0 V794.8" stroke="#ffffff" stroke-width="1" shape-rendering="crispEdges"/><path d="M1388.5 900.0 V794.8" stroke="#2f8f7f" stroke-width="1" stroke-dasharray="3.4 2" shape-rendering="crispEdges"/><rect x="442.0" y="899.0" width="1052.1" height="2" fill="#00008b" shape-rendering="crispEdges"/><rect x="441" y="898" width="4" height="4" fill="#00008b"/><rect x="1491" y="898" width="4" height="4" fill="#00008b"/><rect x="441" y="931" width="4" height="4" fill="#ff0000"/><text transform="translate(446.5,938.74) rotate(-90) scale(0.9,1)" text-anchor="end" fill="#ff1a1a" class="cl">0.0553</text><rect x="546" y="931" width="4" height="4" fill="#9a9a9a"/><text transform="translate(551.5,938.74) rotate(-90) scale(0.9,1)" text-anchor="end" fill="#a2a2a2" class="cl">0.0553</text><rect x="651" y="902" width="4" height="4" fill="#9a9a9a"/><text transform="translate(656.5,909.85) rotate(-90) scale(0.9,1)" text-anchor="end" fill="#a2a2a2" class="cl">0.0065</text><rect x="756" y="899" width="4" height="4" fill="#9a9a9a"/><text transform="translate(761.5,907.42) rotate(-90) scale(0.9,1)" text-anchor="end" fill="#a2a2a2" class="cl">0.0024</text><rect x="861" y="899" width="4" height="4" fill="#9a9a9a"/><text transform="translate(866.5,906.71) rotate(-90) scale(0.9,1)" text-anchor="end" fill="#a2a2a2" class="cl">0.0012</text><rect x="1071" y="900" width="4" height="4" fill="#9a9a9a"/><text transform="translate(1076.5,907.78) rotate(-90) scale(0.9,1)" text-anchor="end" fill="#a2a2a2" class="cl">0.0030</text><rect x="1176" y="901" width="4" height="4" fill="#9a9a9a"/><text transform="translate(1181.5,909.49) rotate(-90) scale(0.9,1)" text-anchor="end" fill="#a2a2a2" class="cl">0.0059</text><rect x="1281" y="900" width="4" height="4" fill="#9a9a9a"/><text transform="translate(1286.5,908.25) rotate(-90) scale(0.9,1)" text-anchor="end" fill="#a2a2a2" class="cl">0.0038</text><rect x="1386" y="793" width="4" height="4" fill="#9a9a9a"/><text transform="translate(1391.5,787.3) rotate(-90) scale(0.9,1)" text-anchor="start" fill="#a2a2a2" class="cl">-0.1777</text><rect x="1491" y="793" width="4" height="4" fill="#9a9a9a"/><text transform="translate(1496.5,787.3) rotate(-90) scale(0.9,1)" text-anchor="start" fill="#a2a2a2" class="cl">-0.1777</text><rect x="1360" y="793" width="4" height="4" fill="#0000ff"/><text transform="translate(1364.5,787.3) rotate(-90) scale(0.9,1)" text-anchor="start" fill="#1a1aff" class="cl">-0.1777</text><rect x="1011" y="899" width="9" height="8" fill="#ff00ff" shape-rendering="crispEdges"/><rect x="956" y="880" width="58" height="18" fill="#f0f0f0" shape-rendering="crispEdges"/><text x="958" y="893" font-size="9.8" fill="#6a6a6a" font-family="Liberation Sans">0.0030 kip/ft</text><rect x="1014" y="169" width="1" height="827" fill="#a8a8a8" shape-rendering="crispEdges"/></g></svg>
<div class="t " style="left:1653px;top:131px;">x :</div>
<div class="a lav" style="left:1672px;top:126px;width:112px;height:23px;"></div>
<div class="t " style="left:1700px;top:131px;width:61.5px;text-align:right">3.57</div>
<svg style="left:1770.8px;top:135.0px" width="9.4" height="6" ><path d="M0.3 0.3 L4.7 5 L9.1 0.3" fill="none" stroke="#555" stroke-width="1.2"/></svg>
<div class="a lav" style="left:1786px;top:126px;width:18px;height:23px;"></div>
<svg style="left:1791.5px;top:133.0px" width="6" height="9" ><path d="M5.5 0 L5.5 9 L0 4.5 Z" fill="#000"/></svg>
<div class="a lav" style="left:1806px;top:126px;width:18px;height:23px;"></div>
<svg style="left:1813.0px;top:133.0px" width="6" height="9" ><path d="M0 0 L0 9 L5.5 4.5 Z" fill="#000"/></svg>
<div class="t " style="left:1831px;top:131px;">[ft]</div>
<svg style="left:1865px;top:126px" width="17" height="22" ><path d="M4.5 9 V6 Q4.5 1.2 9 1.2 Q12.5 1.2 13.3 4" fill="none" stroke="#5c5c5c" stroke-width="2.2"/><rect x="0.5" y="9" width="16" height="12" rx="1.8" fill="#5c5c5c"/><circle cx="8.5" cy="13.8" r="1.7" fill="#fff"/><rect x="7.8" y="14.5" width="1.4" height="3.6" fill="#fff"/></svg>
<div class="a" style="left:1625px;top:169px;width:262px;height:827px;overflow:hidden"><div class="a " style="left:0px;top:-27px;width:249px;height:262px;background:#fff;border:1px solid #f3f3f3"></div>
<div class="a " style="left:1px;top:-26px;width:100px;height:13px;background:#e2e2e2"></div>
<div class="a " style="left:102px;top:-26px;width:124px;height:13px;background:#e2e2e2"></div>
<div class="a " style="left:1px;top:-13px;width:225px;height:39px;background:#f0f0f0"></div>
<div class="a " style="left:101px;top:-26px;width:1px;height:52px;background:#fafafa"></div>
<div class="a " style="left:1px;top:-14px;width:225px;height:1px;background:#fafafa"></div>
<div class="a " style="left:101px;top:-12px;width:1px;height:38px;background:#c9c9c9"></div>
<div class="a " style="left:226px;top:-26px;width:1px;height:227px;background:#d4d4d4"></div>
<div class="a " style="left:1px;top:26px;width:225px;height:1px;background:#c9c9c9"></div>
<div class="t " style="left:1px;top:-11.5px;width:100px;text-align:center">x</div>
<div class="t " style="left:1px;top:8.699999999999989px;width:100px;text-align:center;letter-spacing:0.5px">[ft]</div>
<div class="t " style="left:102px;top:-11.5px;width:125px;text-align:center">n<span class="sub" style="top:1.4px">x</span></div>
<div class="t " style="left:102px;top:8.699999999999989px;width:125px;text-align:center;letter-spacing:0.4px">[kip/ft]</div>
<div class="a" style="left:0;top:27px;width:228px;height:174px;overflow:hidden"><div class="a" style="left:0;top:-27px"><div class="a " style="left:1px;top:46px;width:225px;height:1px;background:#dedede"></div>
<div class="a " style="left:106.83500000000004px;top:29px;width:0.665px;height:15px;background:#d6e4fb"></div>
<div class="a " style="left:107px;top:29px;width:1px;height:15px;background:#b4b4b4"></div>
<div class="t " style="left:15px;top:30px;width:65.3px;text-align:right;font-size:12.4px">0.00</div>
<svg style="left:86px;top:30px" width="8" height="14" ><path d="M0.8 0.5 V13" stroke="#444" stroke-width="1.1"/><path d="M2.5 1.2 L6.3 4.2 L2.5 7.2 Z" fill="#555"/></svg>
<div class="t " style="left:125px;top:30px;width:80px;text-align:right;font-size:12.4px">-0.0010</div>
<div class="a " style="left:212px;top:30px;width:6px;height:6px;background:#a80000"></div>
<div class="a " style="left:212px;top:37.5px;width:6px;height:6.5px;background:#7a7a7a"></div>
<div class="a " style="left:1px;top:66px;width:225px;height:1px;background:#dedede"></div>
<div class="a " style="left:106.83500000000004px;top:49px;width:0.665px;height:15px;background:#d6e4fb"></div>
<div class="a " style="left:107px;top:49px;width:1px;height:15px;background:#b4b4b4"></div>
<div class="t " style="left:15px;top:50px;width:65.3px;text-align:right;font-size:12.4px">0.82</div>
<div class="t " style="left:125px;top:50px;width:80px;text-align:right;font-size:12.4px">-0.0010</div>
<div class="a " style="left:212px;top:50px;width:6px;height:6px;background:#a80000"></div>
<div class="a " style="left:212px;top:57.5px;width:6px;height:6.5px;background:#7a7a7a"></div>
<div class="a " style="left:1px;top:86px;width:225px;height:1px;background:#dedede"></div>
<div class="a " style="left:107.5px;top:69px;width:53.466px;height:15px;background:#ffbfbf"></div>
<div class="a " style="left:107px;top:69px;width:1px;height:15px;background:#b4b4b4"></div>
<div class="t " style="left:15px;top:70px;width:65.3px;text-align:right;font-size:12.4px">0.82</div>
<div class="t " style="left:125px;top:70px;width:80px;text-align:right;font-size:12.4px">0.0804</div>
<div class="a " style="left:1px;top:106px;width:225px;height:1px;background:#dedede"></div>
<div class="a " style="left:107.5px;top:89px;width:53.466px;height:15px;background:#ffbfbf"></div>
<div class="a " style="left:107px;top:89px;width:1px;height:15px;background:#b4b4b4"></div>
<div class="t " style="left:15px;top:90px;width:65.3px;text-align:right;font-size:12.4px">1.64</div>
<svg style="left:83px;top:89px" width="14" height="15" ><text x="1.6" y="6.7" font-family="Liberation Sans" font-size="8.6" fill="#222">1</text><path d="M2.5 13.2 L12 1.8" stroke="#8a8a8a" stroke-width="0.8"/><text x="8" y="13.6" font-family="Liberation Sans" font-size="8.6" fill="#222">4</text></svg>
<div class="t " style="left:125px;top:90px;width:80px;text-align:right;font-size:12.4px">0.0804</div>
<div class="a " style="left:1px;top:126px;width:225px;height:1px;background:#dedede"></div>
<div class="a " style="left:107.5px;top:109px;width:66.367px;height:15px;background:#ffbfbf"></div>
<div class="a " style="left:107px;top:109px;width:1px;height:15px;background:#b4b4b4"></div>
<div class="t " style="left:15px;top:110px;width:65.3px;text-align:right;font-size:12.4px">1.64</div>
<svg style="left:83px;top:109px" width="14" height="15" ><text x="1.6" y="6.7" font-family="Liberation Sans" font-size="8.6" fill="#222">1</text><path d="M2.5 13.2 L12 1.8" stroke="#8a8a8a" stroke-width="0.8"/><text x="8" y="13.6" font-family="Liberation Sans" font-size="8.6" fill="#222">4</text></svg>
<div class="t " style="left:125px;top:110px;width:80px;text-align:right;font-size:12.4px">0.0998</div>
<div class="a " style="left:1px;top:146px;width:225px;height:1px;background:#dedede"></div>
<div class="a " style="left:107.5px;top:129px;width:66.367px;height:15px;background:#ffbfbf"></div>
<div class="a " style="left:107px;top:129px;width:1px;height:15px;background:#b4b4b4"></div>
<div class="t " style="left:15px;top:130px;width:65.3px;text-align:right;font-size:12.4px">2.46</div>
<div class="t " style="left:125px;top:130px;width:80px;text-align:right;font-size:12.4px">0.0998</div>
<div class="a " style="left:1px;top:166px;width:225px;height:1px;background:#dedede"></div>
<div class="a " style="left:107.5px;top:149px;width:73.017px;height:15px;background:#ffbfbf"></div>
<div class="a " style="left:107px;top:149px;width:1px;height:15px;background:#b4b4b4"></div>
<div class="t " style="left:15px;top:150px;width:65.3px;text-align:right;font-size:12.4px">2.46</div>
<div class="t " style="left:125px;top:150px;width:80px;text-align:right;font-size:12.4px">0.1098</div>
<div class="a " style="left:1px;top:186px;width:225px;height:1px;background:#dedede"></div>
<div class="a " style="left:107.5px;top:169px;width:73.017px;height:15px;background:#ffbfbf"></div>
<div class="a " style="left:107px;top:169px;width:1px;height:15px;background:#b4b4b4"></div>
<div class="t " style="left:15px;top:170px;width:65.3px;text-align:right;font-size:12.4px">3.28</div>
<svg style="left:83px;top:169px" width="14" height="15" ><text x="1.6" y="6.7" font-family="Liberation Sans" font-size="8.6" fill="#222">1</text><path d="M2.5 13.2 L12 1.8" stroke="#8a8a8a" stroke-width="0.8"/><text x="8" y="13.6" font-family="Liberation Sans" font-size="8.6" fill="#222">2</text></svg>
<div class="t " style="left:125px;top:170px;width:80px;text-align:right;font-size:12.4px">0.1098</div>
<div class="a " style="left:1px;top:206px;width:225px;height:1px;background:#dedede"></div>
<div class="a " style="left:107.5px;top:189px;width:77.406px;height:15px;background:#ffbfbf"></div>
<div class="a " style="left:107px;top:189px;width:1px;height:15px;background:#b4b4b4"></div>
<div class="t " style="left:15px;top:190px;width:65.3px;text-align:right;font-size:12.4px">3.28</div>
<svg style="left:83px;top:189px" width="14" height="15" ><text x="1.6" y="6.7" font-family="Liberation Sans" font-size="8.6" fill="#222">1</text><path d="M2.5 13.2 L12 1.8" stroke="#8a8a8a" stroke-width="0.8"/><text x="8" y="13.6" font-family="Liberation Sans" font-size="8.6" fill="#222">2</text></svg>
<div class="t " style="left:125px;top:190px;width:80px;text-align:right;font-size:12.4px">0.1164</div>
</div></div>
<div class="a " style="left:101px;top:27px;width:1px;height:174px;background:#dedede"></div>
<div class="a " style="left:0px;top:26px;width:1px;height:175px;background:#dedede"></div>
<div class="a " style="left:228px;top:-27px;width:21px;height:228px;background:#f0f0f0"></div>
<div class="a " style="left:228px;top:-5px;width:19px;height:91px;background:#cdcdcd"></div>
<svg style="left:233.5px;top:-17.6px" width="9" height="6.2" ><path d="M0.3 5.2 L4.5 0.5 L8.7 5.2" fill="none" stroke="#484848" stroke-width="1.9"/></svg>
<svg style="left:233.5px;top:187.70000000000002px" width="9" height="6.2" ><path d="M0.3 0.3 L4.5 5.2 L8.7 0.3" fill="none" stroke="#484848" stroke-width="1.9"/></svg>
<div class="a " style="left:0px;top:201px;width:249px;height:34px;background:#fff;border:1px solid #f3f3f3;border-top:none"></div>
<div class="a " style="left:6px;top:206px;width:29px;height:24px;background:#cce4f7"></div>
<div class="a " style="left:39px;top:206px;width:29px;height:24px;background:#cce4f7"></div>
<svg style="left:12px;top:208px" width="17" height="22" ><path d="M0 0 H16 L9.8 7 V12.5 L6.2 12.5 V7 Z" fill="#5b7fc8"/><path d="M6.2 7 H9.8 V13 H6.2Z" fill="#8fb0e8"/><text x="8.3" y="19.6" text-anchor="middle" font-family="Liberation Sans" font-size="10.2" fill="#222">max</text></svg>
<svg style="left:45px;top:208px" width="17" height="22" ><path d="M0 0 H16 L9.8 7 V12.5 L6.2 12.5 V7 Z" fill="#5b7fc8"/><path d="M6.2 7 H9.8 V13 H6.2Z" fill="#8fb0e8"/><circle cx="8" cy="17.5" r="2.6" fill="#e00c0c"/><circle cx="8.8" cy="18.3" r="1.2" fill="#a80808" opacity="0.6"/></svg>
<div class="a " style="left:0px;top:262px;width:249px;height:262px;background:#fff;border:1px solid #f3f3f3"></div>
<div class="a " style="left:1px;top:263px;width:100px;height:13px;background:#e2e2e2"></div>
<div class="a " style="left:102px;top:263px;width:124px;height:13px;background:#e2e2e2"></div>
<div class="a " style="left:1px;top:276px;width:225px;height:39px;background:#f0f0f0"></div>
<div class="a " style="left:101px;top:263px;width:1px;height:52px;background:#fafafa"></div>
<div class="a " style="left:1px;top:275px;width:225px;height:1px;background:#fafafa"></div>
<div class="a " style="left:101px;top:277px;width:1px;height:38px;background:#c9c9c9"></div>
<div class="a " style="left:226px;top:263px;width:1px;height:227px;background:#d4d4d4"></div>
<div class="a " style="left:1px;top:315px;width:225px;height:1px;background:#c9c9c9"></div>
<div class="t " style="left:1px;top:277.5px;width:100px;text-align:center">x</div>
<div class="t " style="left:1px;top:297.7px;width:100px;text-align:center;letter-spacing:0.5px">[ft]</div>
<div class="t " style="left:102px;top:277.5px;width:125px;text-align:center">n<span class="sub" style="top:1.4px">y</span></div>
<div class="t " style="left:102px;top:297.7px;width:125px;text-align:center;letter-spacing:0.4px">[kip/ft]</div>
<div class="a" style="left:0;top:316px;width:228px;height:174px;overflow:hidden"><div class="a" style="left:0;top:-316px"><div class="a " style="left:1px;top:335px;width:225px;height:1px;background:#dedede"></div>
<div class="a " style="left:107.0018px;top:318px;width:18.4982px;height:15px;background:#d6e4fb"></div>
<div class="a " style="left:125px;top:318px;width:1px;height:15px;background:#b4b4b4"></div>
<div class="t " style="left:15px;top:319px;width:65.3px;text-align:right;font-size:12.4px">0.00</div>
<svg style="left:86px;top:319px" width="8" height="14" ><path d="M0.8 0.5 V13" stroke="#444" stroke-width="1.1"/><path d="M2.5 1.2 L6.3 4.2 L2.5 7.2 Z" fill="#555"/></svg>
<div class="t " style="left:125px;top:319px;width:80px;text-align:right;font-size:12.4px">-1.0220</div>
<div class="a " style="left:212px;top:319px;width:6px;height:6px;background:#a80000"></div>
<div class="a " style="left:212px;top:326.5px;width:6px;height:6.5px;background:#7a7a7a"></div>
<div class="a " style="left:1px;top:355px;width:225px;height:1px;background:#dedede"></div>
<div class="a " style="left:107.0018px;top:338px;width:18.4982px;height:15px;background:#d6e4fb"></div>
<div class="a " style="left:125px;top:338px;width:1px;height:15px;background:#b4b4b4"></div>
<div class="t " style="left:15px;top:339px;width:65.3px;text-align:right;font-size:12.4px">0.82</div>
<div class="t " style="left:125px;top:339px;width:80px;text-align:right;font-size:12.4px">-1.0220</div>
<div class="a " style="left:212px;top:339px;width:6px;height:6px;background:#a80000"></div>
<div class="a " style="left:212px;top:346.5px;width:6px;height:6.5px;background:#7a7a7a"></div>
<div class="a " style="left:1px;top:375px;width:225px;height:1px;background:#dedede"></div>
<div class="a " style="left:123.86375999999996px;top:358px;width:1.63624px;height:15px;background:#d6e4fb"></div>
<div class="a " style="left:125px;top:358px;width:1px;height:15px;background:#b4b4b4"></div>
<div class="t " style="left:15px;top:359px;width:65.3px;text-align:right;font-size:12.4px">0.82</div>
<div class="t " style="left:125px;top:359px;width:80px;text-align:right;font-size:12.4px">-0.0904</div>
<div class="a " style="left:1px;top:395px;width:225px;height:1px;background:#dedede"></div>
<div class="a " style="left:123.86375999999996px;top:378px;width:1.63624px;height:15px;background:#d6e4fb"></div>
<div class="a " style="left:125px;top:378px;width:1px;height:15px;background:#b4b4b4"></div>
<div class="t " style="left:15px;top:379px;width:65.3px;text-align:right;font-size:12.4px">1.64</div>
<svg style="left:83px;top:378px" width="14" height="15" ><text x="1.6" y="6.7" font-family="Liberation Sans" font-size="8.6" fill="#222">1</text><path d="M2.5 13.2 L12 1.8" stroke="#8a8a8a" stroke-width="0.8"/><text x="8" y="13.6" font-family="Liberation Sans" font-size="8.6" fill="#222">4</text></svg>
<div class="t " style="left:125px;top:379px;width:80px;text-align:right;font-size:12.4px">-0.0904</div>
<div class="a " style="left:1px;top:415px;width:225px;height:1px;background:#dedede"></div>
<div class="a " style="left:125.5px;top:398px;width:11.435580000000002px;height:15px;background:#ffbfbf"></div>
<div class="a " style="left:125px;top:398px;width:1px;height:15px;background:#b4b4b4"></div>
<div class="t " style="left:15px;top:399px;width:65.3px;text-align:right;font-size:12.4px">1.64</div>
<svg style="left:83px;top:398px" width="14" height="15" ><text x="1.6" y="6.7" font-family="Liberation Sans" font-size="8.6" fill="#222">1</text><path d="M2.5 13.2 L12 1.8" stroke="#8a8a8a" stroke-width="0.8"/><text x="8" y="13.6" font-family="Liberation Sans" font-size="8.6" fill="#222">4</text></svg>
<div class="t " style="left:125px;top:399px;width:80px;text-align:right;font-size:12.4px">0.6318</div>
<div class="a " style="left:1px;top:435px;width:225px;height:1px;background:#dedede"></div>
<div class="a " style="left:125.5px;top:418px;width:11.435580000000002px;height:15px;background:#ffbfbf"></div>
<div class="a " style="left:125px;top:418px;width:1px;height:15px;background:#b4b4b4"></div>
<div class="t " style="left:15px;top:419px;width:65.3px;text-align:right;font-size:12.4px">2.46</div>
<div class="t " style="left:125px;top:419px;width:80px;text-align:right;font-size:12.4px">0.6318</div>
<div class="a " style="left:1px;top:455px;width:225px;height:1px;background:#dedede"></div>
<div class="a " style="left:125.5px;top:438px;width:24.56351px;height:15px;background:#ffbfbf"></div>
<div class="a " style="left:125px;top:438px;width:1px;height:15px;background:#b4b4b4"></div>
<div class="t " style="left:15px;top:439px;width:65.3px;text-align:right;font-size:12.4px">2.46</div>
<div class="t " style="left:125px;top:439px;width:80px;text-align:right;font-size:12.4px">1.3571</div>
<div class="a " style="left:1px;top:475px;width:225px;height:1px;background:#dedede"></div>
<div class="a " style="left:125.5px;top:458px;width:24.56351px;height:15px;background:#ffbfbf"></div>
<div class="a " style="left:125px;top:458px;width:1px;height:15px;background:#b4b4b4"></div>
<div class="t " style="left:15px;top:459px;width:65.3px;text-align:right;font-size:12.4px">3.28</div>
<svg style="left:83px;top:458px" width="14" height="15" ><text x="1.6" y="6.7" font-family="Liberation Sans" font-size="8.6" fill="#222">1</text><path d="M2.5 13.2 L12 1.8" stroke="#8a8a8a" stroke-width="0.8"/><text x="8" y="13.6" font-family="Liberation Sans" font-size="8.6" fill="#222">2</text></svg>
<div class="t " style="left:125px;top:459px;width:80px;text-align:right;font-size:12.4px">1.3571</div>
<div class="a " style="left:1px;top:495px;width:225px;height:1px;background:#dedede"></div>
<div class="a " style="left:125.5px;top:478px;width:38.03896px;height:15px;background:#ffbfbf"></div>
<div class="a " style="left:125px;top:478px;width:1px;height:15px;background:#b4b4b4"></div>
<div class="t " style="left:15px;top:479px;width:65.3px;text-align:right;font-size:12.4px">3.28</div>
<svg style="left:83px;top:478px" width="14" height="15" ><text x="1.6" y="6.7" font-family="Liberation Sans" font-size="8.6" fill="#222">1</text><path d="M2.5 13.2 L12 1.8" stroke="#8a8a8a" stroke-width="0.8"/><text x="8" y="13.6" font-family="Liberation Sans" font-size="8.6" fill="#222">2</text></svg>
<div class="t " style="left:125px;top:479px;width:80px;text-align:right;font-size:12.4px">2.1016</div>
</div></div>
<div class="a " style="left:101px;top:316px;width:1px;height:174px;background:#dedede"></div>
<div class="a " style="left:0px;top:315px;width:1px;height:175px;background:#dedede"></div>
<div class="a " style="left:228px;top:262px;width:21px;height:228px;background:#f0f0f0"></div>
<div class="a " style="left:228px;top:284px;width:19px;height:91px;background:#cdcdcd"></div>
<svg style="left:233.5px;top:271.4px" width="9" height="6.2" ><path d="M0.3 5.2 L4.5 0.5 L8.7 5.2" fill="none" stroke="#484848" stroke-width="1.9"/></svg>
<svg style="left:233.5px;top:476.69999999999993px" width="9" height="6.2" ><path d="M0.3 0.3 L4.5 5.2 L8.7 0.3" fill="none" stroke="#484848" stroke-width="1.9"/></svg>
<div class="a " style="left:0px;top:490px;width:249px;height:34px;background:#fff;border:1px solid #f3f3f3;border-top:none"></div>
<div class="a " style="left:6px;top:495px;width:29px;height:24px;background:#cce4f7"></div>
<div class="a " style="left:39px;top:495px;width:29px;height:24px;background:#cce4f7"></div>
<svg style="left:12px;top:497px" width="17" height="22" ><path d="M0 0 H16 L9.8 7 V12.5 L6.2 12.5 V7 Z" fill="#5b7fc8"/><path d="M6.2 7 H9.8 V13 H6.2Z" fill="#8fb0e8"/><text x="8.3" y="19.6" text-anchor="middle" font-family="Liberation Sans" font-size="10.2" fill="#222">max</text></svg>
<svg style="left:45px;top:497px" width="17" height="22" ><path d="M0 0 H16 L9.8 7 V12.5 L6.2 12.5 V7 Z" fill="#5b7fc8"/><path d="M6.2 7 H9.8 V13 H6.2Z" fill="#8fb0e8"/><circle cx="8" cy="17.5" r="2.6" fill="#e00c0c"/><circle cx="8.8" cy="18.3" r="1.2" fill="#a80808" opacity="0.6"/></svg>
<div class="a " style="left:0px;top:551px;width:249px;height:262px;background:#fff;border:1px solid #f3f3f3"></div>
<div class="a " style="left:1px;top:552px;width:100px;height:13px;background:#e2e2e2"></div>
<div class="a " style="left:102px;top:552px;width:124px;height:13px;background:#e2e2e2"></div>
<div class="a " style="left:1px;top:565px;width:225px;height:39px;background:#f0f0f0"></div>
<div class="a " style="left:101px;top:552px;width:1px;height:52px;background:#fafafa"></div>
<div class="a " style="left:1px;top:564px;width:225px;height:1px;background:#fafafa"></div>
<div class="a " style="left:101px;top:566px;width:1px;height:38px;background:#c9c9c9"></div>
<div class="a " style="left:226px;top:552px;width:1px;height:227px;background:#d4d4d4"></div>
<div class="a " style="left:1px;top:604px;width:225px;height:1px;background:#c9c9c9"></div>
<div class="t " style="left:1px;top:566.5px;width:100px;text-align:center">x</div>
<div class="t " style="left:1px;top:586.7px;width:100px;text-align:center;letter-spacing:0.5px">[ft]</div>
<div class="t " style="left:102px;top:566.5px;width:125px;text-align:center">n<span class="sub" style="top:1.4px">xy</span></div>
<div class="t " style="left:102px;top:586.7px;width:125px;text-align:center;letter-spacing:0.4px">[kip/ft]</div>
<div class="a" style="left:0;top:605px;width:228px;height:174px;overflow:hidden"><div class="a" style="left:0;top:-605px"><div class="a " style="left:1px;top:624px;width:225px;height:1px;background:#dedede"></div>
<div class="a " style="left:180.5px;top:607px;width:23.226px;height:15px;background:#ffbfbf"></div>
<div class="a " style="left:180px;top:607px;width:1px;height:15px;background:#b4b4b4"></div>
<div class="t " style="left:15px;top:608px;width:65.3px;text-align:right;font-size:12.4px">0.00</div>
<svg style="left:86px;top:608px" width="8" height="14" ><path d="M0.8 0.5 V13" stroke="#444" stroke-width="1.1"/><path d="M2.5 1.2 L6.3 4.2 L2.5 7.2 Z" fill="#555"/></svg>
<div class="t " style="left:125px;top:608px;width:80px;text-align:right;font-size:12.4px">0.0553</div>
<div class="a " style="left:212px;top:608px;width:6px;height:6px;background:#7a7a7a"></div>
<div class="a " style="left:212px;top:615.5px;width:6px;height:6.5px;background:#3535f0"></div>
<div class="a " style="left:1px;top:644px;width:225px;height:1px;background:#dedede"></div>
<div class="a " style="left:180.5px;top:627px;width:23.226px;height:15px;background:#ffbfbf"></div>
<div class="a " style="left:180px;top:627px;width:1px;height:15px;background:#b4b4b4"></div>
<div class="t " style="left:15px;top:628px;width:65.3px;text-align:right;font-size:12.4px">0.82</div>
<div class="t " style="left:125px;top:628px;width:80px;text-align:right;font-size:12.4px">0.0553</div>
<div class="a " style="left:212px;top:628px;width:6px;height:6px;background:#7a7a7a"></div>
<div class="a " style="left:212px;top:635.5px;width:6px;height:6.5px;background:#3535f0"></div>
<div class="a " style="left:1px;top:664px;width:225px;height:1px;background:#dedede"></div>
<div class="a " style="left:180.5px;top:647px;width:2.73px;height:15px;background:#ffbfbf"></div>
<div class="a " style="left:180px;top:647px;width:1px;height:15px;background:#b4b4b4"></div>
<div class="t " style="left:15px;top:648px;width:65.3px;text-align:right;font-size:12.4px">0.82</div>
<div class="t " style="left:125px;top:648px;width:80px;text-align:right;font-size:12.4px">0.0065</div>
<div class="a " style="left:1px;top:684px;width:225px;height:1px;background:#dedede"></div>
<div class="a " style="left:180.5px;top:667px;width:2.73px;height:15px;background:#ffbfbf"></div>
<div class="a " style="left:180px;top:667px;width:1px;height:15px;background:#b4b4b4"></div>
<div class="t " style="left:15px;top:668px;width:65.3px;text-align:right;font-size:12.4px">1.64</div>
<svg style="left:83px;top:667px" width="14" height="15" ><text x="1.6" y="6.7" font-family="Liberation Sans" font-size="8.6" fill="#222">1</text><path d="M2.5 13.2 L12 1.8" stroke="#8a8a8a" stroke-width="0.8"/><text x="8" y="13.6" font-family="Liberation Sans" font-size="8.6" fill="#222">4</text></svg>
<div class="t " style="left:125px;top:668px;width:80px;text-align:right;font-size:12.4px">0.0065</div>
<div class="a " style="left:1px;top:704px;width:225px;height:1px;background:#dedede"></div>
<div class="a " style="left:180.5px;top:687px;width:1.008px;height:15px;background:#ffbfbf"></div>
<div class="a " style="left:180px;top:687px;width:1px;height:15px;background:#b4b4b4"></div>
<div class="t " style="left:15px;top:688px;width:65.3px;text-align:right;font-size:12.4px">1.64</div>
<svg style="left:83px;top:687px" width="14" height="15" ><text x="1.6" y="6.7" font-family="Liberation Sans" font-size="8.6" fill="#222">1</text><path d="M2.5 13.2 L12 1.8" stroke="#8a8a8a" stroke-width="0.8"/><text x="8" y="13.6" font-family="Liberation Sans" font-size="8.6" fill="#222">4</text></svg>
<div class="t " style="left:125px;top:688px;width:80px;text-align:right;font-size:12.4px">0.0024</div>
<div class="a " style="left:1px;top:724px;width:225px;height:1px;background:#dedede"></div>
<div class="a " style="left:180.5px;top:707px;width:1.008px;height:15px;background:#ffbfbf"></div>
<div class="a " style="left:180px;top:707px;width:1px;height:15px;background:#b4b4b4"></div>
<div class="t " style="left:15px;top:708px;width:65.3px;text-align:right;font-size:12.4px">2.46</div>
<div class="t " style="left:125px;top:708px;width:80px;text-align:right;font-size:12.4px">0.0024</div>
<div class="a " style="left:1px;top:744px;width:225px;height:1px;background:#dedede"></div>
<div class="a " style="left:180.5px;top:727px;width:0.8px;height:15px;background:#ffbfbf"></div>
<div class="a " style="left:180px;top:727px;width:1px;height:15px;background:#b4b4b4"></div>
<div class="t " style="left:15px;top:728px;width:65.3px;text-align:right;font-size:12.4px">2.46</div>
<div class="t " style="left:125px;top:728px;width:80px;text-align:right;font-size:12.4px">0.0012</div>
<div class="a " style="left:1px;top:764px;width:225px;height:1px;background:#dedede"></div>
<div class="a " style="left:180.5px;top:747px;width:0.8px;height:15px;background:#ffbfbf"></div>
<div class="a " style="left:180px;top:747px;width:1px;height:15px;background:#b4b4b4"></div>
<div class="t " style="left:15px;top:748px;width:65.3px;text-align:right;font-size:12.4px">3.28</div>
<svg style="left:83px;top:747px" width="14" height="15" ><text x="1.6" y="6.7" font-family="Liberation Sans" font-size="8.6" fill="#222">1</text><path d="M2.5 13.2 L12 1.8" stroke="#8a8a8a" stroke-width="0.8"/><text x="8" y="13.6" font-family="Liberation Sans" font-size="8.6" fill="#222">2</text></svg>
<div class="t " style="left:125px;top:748px;width:80px;text-align:right;font-size:12.4px">0.0012</div>
<div class="a " style="left:1px;top:784px;width:225px;height:1px;background:#dedede"></div>
<div class="a " style="left:180.5px;top:767px;width:1.26px;height:15px;background:#ffbfbf"></div>
<div class="a " style="left:180px;top:767px;width:1px;height:15px;background:#b4b4b4"></div>
<div class="t " style="left:15px;top:768px;width:65.3px;text-align:right;font-size:12.4px">3.28</div>
<svg style="left:83px;top:767px" width="14" height="15" ><text x="1.6" y="6.7" font-family="Liberation Sans" font-size="8.6" fill="#222">1</text><path d="M2.5 13.2 L12 1.8" stroke="#8a8a8a" stroke-width="0.8"/><text x="8" y="13.6" font-family="Liberation Sans" font-size="8.6" fill="#222">2</text></svg>
<div class="t " style="left:125px;top:768px;width:80px;text-align:right;font-size:12.4px">0.0030</div>
</div></div>
<div class="a " style="left:101px;top:605px;width:1px;height:174px;background:#dedede"></div>
<div class="a " style="left:0px;top:604px;width:1px;height:175px;background:#dedede"></div>
<div class="a " style="left:228px;top:551px;width:21px;height:228px;background:#f0f0f0"></div>
<div class="a " style="left:228px;top:573px;width:19px;height:91px;background:#cdcdcd"></div>
<svg style="left:233.5px;top:560.4px" width="9" height="6.2" ><path d="M0.3 5.2 L4.5 0.5 L8.7 5.2" fill="none" stroke="#484848" stroke-width="1.9"/></svg>
<svg style="left:233.5px;top:765.6999999999999px" width="9" height="6.2" ><path d="M0.3 0.3 L4.5 5.2 L8.7 0.3" fill="none" stroke="#484848" stroke-width="1.9"/></svg>
<div class="a " style="left:0px;top:779px;width:249px;height:34px;background:#fff;border:1px solid #f3f3f3;border-top:none"></div>
<div class="a " style="left:6px;top:784px;width:29px;height:24px;background:#cce4f7"></div>
<div class="a " style="left:39px;top:784px;width:29px;height:24px;background:#cce4f7"></div>
<svg style="left:12px;top:786px" width="17" height="22" ><path d="M0 0 H16 L9.8 7 V12.5 L6.2 12.5 V7 Z" fill="#5b7fc8"/><path d="M6.2 7 H9.8 V13 H6.2Z" fill="#8fb0e8"/><text x="8.3" y="19.6" text-anchor="middle" font-family="Liberation Sans" font-size="10.2" fill="#222">max</text></svg>
<svg style="left:45px;top:786px" width="17" height="22" ><path d="M0 0 H16 L9.8 7 V12.5 L6.2 12.5 V7 Z" fill="#5b7fc8"/><path d="M6.2 7 H9.8 V13 H6.2Z" fill="#8fb0e8"/><circle cx="8" cy="17.5" r="2.6" fill="#e00c0c"/><circle cx="8.8" cy="18.3" r="1.2" fill="#a80808" opacity="0.6"/></svg>
</div>

</div>
</body></html>
